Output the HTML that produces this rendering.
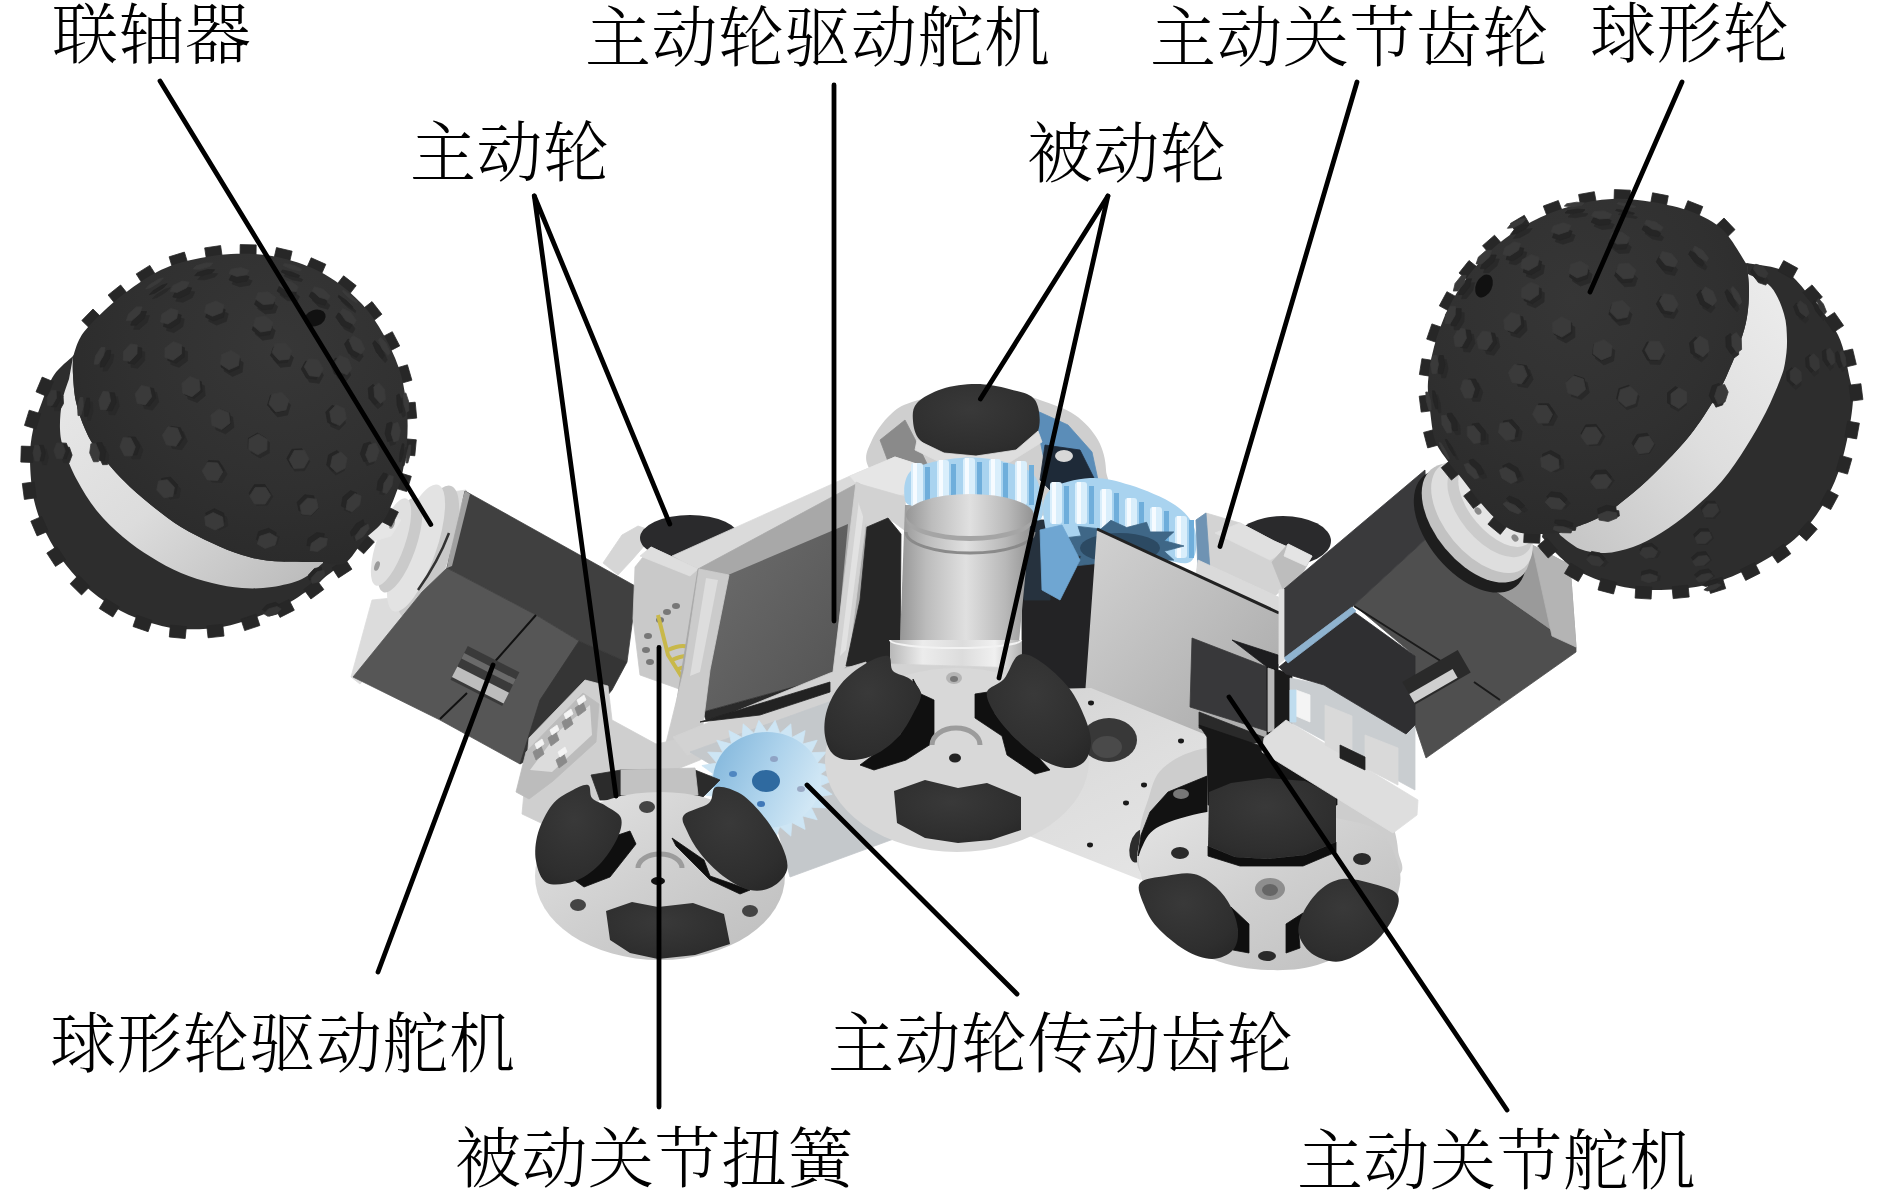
<!DOCTYPE html>
<html lang="zh"><head><meta charset="utf-8"><title>robot</title>
<style>html,body{margin:0;padding:0;background:#fff;}svg{display:block}text{font-family:"Liberation Serif","Noto Serif CJK SC",serif;}</style>
</head><body>
<svg width="1890" height="1190" viewBox="0 0 1890 1190">
<rect width="1890" height="1190" fill="#fff"/>
<defs>
<linearGradient id="bandL" x1="0" y1="0" x2="1" y2="1"><stop offset="0" stop-color="#e9e9e9"/><stop offset="0.5" stop-color="#dcdcdc"/><stop offset="1" stop-color="#b9b9b9"/></linearGradient>
<linearGradient id="bandR" x1="1" y1="0" x2="0" y2="1"><stop offset="0" stop-color="#ededed"/><stop offset="0.5" stop-color="#dedede"/><stop offset="1" stop-color="#c4c4c4"/></linearGradient>
<radialGradient id="ballL" cx="0.62" cy="0.3" r="0.75"><stop offset="0" stop-color="#373737"/><stop offset="0.6" stop-color="#303030"/><stop offset="1" stop-color="#2a2a2a"/></radialGradient>
<radialGradient id="ballR" cx="0.45" cy="0.3" r="0.75"><stop offset="0" stop-color="#363636"/><stop offset="0.6" stop-color="#303030"/><stop offset="1" stop-color="#2a2a2a"/></radialGradient>
<linearGradient id="cyl" x1="0" y1="0" x2="1" y2="0"><stop offset="0" stop-color="#969696"/><stop offset="0.2" stop-color="#bcbcbc"/><stop offset="0.5" stop-color="#e0e0e0"/><stop offset="0.8" stop-color="#b8b8b8"/><stop offset="1" stop-color="#929292"/></linearGradient>
<linearGradient id="cyl2" x1="0" y1="0" x2="1" y2="0"><stop offset="0" stop-color="#b8b8b8"/><stop offset="0.25" stop-color="#ececec"/><stop offset="0.55" stop-color="#dcdcdc"/><stop offset="0.8" stop-color="#f0f0f0"/><stop offset="1" stop-color="#b4b4b4"/></linearGradient>
<linearGradient id="splate" x1="0" y1="0" x2="1" y2="1"><stop offset="0" stop-color="#d2d2d2"/><stop offset="0.5" stop-color="#bdbdbd"/><stop offset="1" stop-color="#a8a8a8"/></linearGradient>
<linearGradient id="srv" x1="0" y1="0" x2="1" y2="1"><stop offset="0" stop-color="#6e6e6e"/><stop offset="0.5" stop-color="#606060"/><stop offset="1" stop-color="#525252"/></linearGradient>
<linearGradient id="gearg" x1="0" y1="0.3" x2="1" y2="0.7"><stop offset="0" stop-color="#86b9dd"/><stop offset="0.5" stop-color="#aed3ec"/><stop offset="1" stop-color="#d6eaf6"/></linearGradient>
<linearGradient id="plate" x1="0" y1="0" x2="1" y2="1"><stop offset="0" stop-color="#c9c9c9"/><stop offset="1" stop-color="#dedede"/></linearGradient>
</defs>
<polygon points="351.0,677.0 372.0,600.0 412.0,596.0 447.0,566.0 458.0,521.0 452.0,492.0 466.0,490.0 470.0,500.0 450.0,575.0 360.0,684.0" fill="#dcdcdc"  stroke="#dcdcdc" stroke-width="0.8"/>
<ellipse cx="428.0" cy="552.0" rx="22.0" ry="70.0" fill="#c9c9c9" transform="rotate(19.3 428.0 552.0)" />
<ellipse cx="416.0" cy="548.0" rx="20.0" ry="67.0" fill="#e3e3e3" transform="rotate(19.3 416.0 548.0)" />
<ellipse cx="400.0" cy="545.0" rx="16.0" ry="50.0" fill="#cacaca" transform="rotate(19.3 400.0 545.0)" />
<ellipse cx="391.0" cy="542.0" rx="14.0" ry="46.0" fill="#e0e0e0" transform="rotate(19.3 391.0 542.0)" />
<polygon points="385.0,512.0 401.0,520.0 391.0,536.0 364.0,544.0" fill="#e6e6e6"  stroke="#e6e6e6" stroke-width="0.8"/>
<ellipse cx="392.0" cy="524.0" rx="2.5" ry="5.0" fill="#9a9a9a" transform="rotate(19.0 392.0 524.0)" />
<ellipse cx="377.0" cy="566.0" rx="2.5" ry="5.0" fill="#9a9a9a" transform="rotate(19.0 377.0 566.0)" />
<path d="M449,533 Q438,562 418,590" stroke="#333" stroke-width="2.5" fill="none"/>
<polygon points="447.0,568.0 536.0,615.0 579.0,641.0 545.0,700.0 520.0,764.0 440.0,720.0 353.0,677.0 422.0,592.0" fill="#565656"  stroke="#565656" stroke-width="0.8"/>
<polygon points="465.0,491.0 637.0,587.0 627.0,662.0 579.0,641.0 536.0,615.0 447.0,568.0 458.0,521.0" fill="#404040"  stroke="#404040" stroke-width="0.8"/>
<polygon points="579.0,641.0 627.0,662.0 612.0,690.0 575.0,735.0 520.0,764.0 540.0,700.0" fill="#353535"  stroke="#353535" stroke-width="0.8"/>
<polygon points="465.0,491.0 470.0,494.0 452.0,566.0 447.0,568.0 456.0,521.0" fill="#c8c8c8" opacity='.7'/>
<path d="M536,615 L491,666 M467,693 L440,719" stroke="#111" stroke-width="2" fill="none"/>
<g transform="rotate(27 485 676)"><rect x="456" y="657" width="58" height="38" fill="#3a3a3a"/><rect x="456" y="680" width="58" height="12" fill="#bdbdbd"/><rect x="456" y="665" width="58" height="6" fill="#6a6a6a"/></g>
<polygon points="603.0,563.0 622.0,535.0 638.0,526.0 650.0,530.0 645.0,545.0 632.0,560.0 618.0,575.0" fill="#d6d6d6"  stroke="#d6d6d6" stroke-width="0.8"/>
<ellipse cx="690.0" cy="538.0" rx="50.0" ry="23.0" fill="#2a2a2c" />
<ellipse cx="1283.0" cy="541.0" rx="48.0" ry="25.0" fill="#2a2a2c" />
<path d="M868.0,466.0 C863.3,456.0 868.3,448.5 872.0,440.0 C875.7,431.5 883.3,421.3 890.0,415.0 C896.7,408.7 900.3,405.8 912.0,402.0 C923.7,398.2 943.7,393.7 960.0,392.0 C976.3,390.3 996.7,390.7 1010.0,392.0 C1023.3,393.3 1029.2,396.2 1040.0,400.0 C1050.8,403.8 1065.3,408.3 1075.0,415.0 C1084.7,421.7 1092.8,430.8 1098.0,440.0 C1103.2,449.2 1105.7,460.0 1106.0,470.0 C1106.3,480.0 1117.7,491.7 1100.0,500.0 C1082.3,508.3 1033.3,520.0 1000.0,520.0 C966.7,520.0 922.0,509.0 900.0,500.0 C878.0,491.0 872.7,476.0 868.0,466.0Z" fill="#cfcfcf" />
<polygon points="880.0,440.0 905.0,420.0 918.0,445.0 930.0,470.0 895.0,480.0" fill="#8a8a8a"  stroke="#8a8a8a" stroke-width="0.8"/>
<polygon points="1035.0,410.0 1068.0,425.0 1092.0,452.0 1098.0,480.0 1050.0,490.0 1040.0,440.0" fill="#5b8db8"  stroke="#5b8db8" stroke-width="0.8"/>
<polygon points="1045.0,445.0 1080.0,450.0 1095.0,480.0 1060.0,500.0 1040.0,480.0" fill="#1e2a38"  stroke="#1e2a38" stroke-width="0.8"/>
<ellipse cx="1064.0" cy="456.0" rx="9.0" ry="6.0" fill="#d8d8d8" />
<path d="M913.0,421.0 C912.5,414.8 912.2,408.3 917.0,403.0 C921.8,397.7 932.2,392.2 942.0,389.0 C951.8,385.8 964.8,384.0 976.0,384.0 C987.2,384.0 999.2,386.3 1009.0,389.0 C1018.8,391.7 1030.2,393.0 1035.0,400.0 C1039.8,407.0 1041.2,422.7 1038.0,431.0 C1034.8,439.3 1026.3,445.8 1016.0,450.0 C1005.7,454.2 988.0,455.5 976.0,456.0 C964.0,456.5 953.3,455.7 944.0,453.0 C934.7,450.3 925.2,445.3 920.0,440.0 C914.8,434.7 913.5,427.2 913.0,421.0Z" fill="url(#roll)" />
<polygon points="917.0,440.0 944.0,453.0 976.0,456.0 1016.0,450.0 1038.0,431.0 1042.0,442.0 1010.0,462.0 976.0,466.0 944.0,464.0 915.0,450.0" fill="#dedede"  stroke="#dedede" stroke-width="0.8"/>
<polygon points="672.0,556.0 850.0,476.0 895.0,457.0 935.0,470.0 905.0,500.0 858.0,483.0 698.0,570.0" fill="#dadada"  stroke="#dadada" stroke-width="0.8"/>
<polygon points="850.0,476.0 895.0,457.0 935.0,470.0 915.0,492.0 870.0,500.0" fill="#e6e6e6"  stroke="#e6e6e6" stroke-width="0.8"/>
<polygon points="635.0,567.0 651.0,547.0 698.0,569.0 694.0,614.0 682.0,690.0 640.0,675.0 633.0,618.0" fill="#c9c9c9"  stroke="#c9c9c9" stroke-width="0.8"/>
<polygon points="651.0,547.0 698.0,569.0 690.0,576.0 640.0,556.0" fill="#dedede"  stroke="#dedede" stroke-width="0.8"/>
<ellipse cx="660.0" cy="620.0" rx="4.0" ry="3.0" fill="#777" />
<ellipse cx="667.0" cy="612.0" rx="4.0" ry="3.0" fill="#777" />
<ellipse cx="648.0" cy="636.0" rx="4.0" ry="3.0" fill="#777" />
<ellipse cx="646.0" cy="650.0" rx="4.0" ry="3.0" fill="#777" />
<ellipse cx="650.0" cy="662.0" rx="4.0" ry="3.0" fill="#777" />
<ellipse cx="676.0" cy="606.0" rx="4.0" ry="3.0" fill="#777" />
<path d="M658,615 L668,655 L690,690 M668,650 C690,640 700,650 690,672 M672,660 C694,650 704,660 694,684 M676,670 C698,660 708,672 698,694" stroke="#c8b84a" stroke-width="4" fill="none"/>
<polygon points="698.0,569.0 858.0,483.0 868.0,490.0 866.0,665.0 832.0,682.0 676.0,706.0" fill="#a8a8a8"  stroke="#a8a8a8" stroke-width="0.8"/>
<polygon points="728.0,575.0 848.0,524.0 834.0,676.0 703.0,712.0 712.0,640.0" fill="url(#srv)" />
<polygon points="703.0,712.0 834.0,676.0 834.0,684.0 706.0,720.0" fill="#2a2a2a"  stroke="#2a2a2a" stroke-width="0.8"/>
<polygon points="699.0,569.0 729.0,575.0 710.0,670.0 702.0,733.0 666.0,743.0 684.0,670.0" fill="#cbcbcb"  stroke="#cbcbcb" stroke-width="0.8"/>
<polygon points="706.0,578.0 718.0,580.0 700.0,672.0 690.0,676.0" fill="#e4e4e4" opacity='.7'/>
<polygon points="856.0,482.0 870.0,489.0 848.0,664.0 832.0,680.0" fill="#d2d2d2"  stroke="#d2d2d2" stroke-width="0.8"/>
<polygon points="860.0,492.0 866.0,495.0 846.0,650.0 840.0,656.0" fill="#ececec" opacity='.6'/>
<polygon points="856.0,483.0 905.0,497.0 907.0,532.0 888.0,518.0 867.0,527.0 858.0,500.0" fill="#d2d2d2"  stroke="#d2d2d2" stroke-width="0.8"/>
<polygon points="867.0,527.0 888.0,518.0 901.0,534.0 900.0,666.0 846.0,666.0 860.0,600.0" fill="#262626"  stroke="#262626" stroke-width="0.8"/>
<polygon points="1022.0,545.0 1060.0,560.0 1097.0,531.0 1092.0,692.0 1060.0,694.0 1022.0,682.0" fill="#232325"  stroke="#232325" stroke-width="0.8"/>
<polygon points="1020.0,520.0 1050.0,520.0 1050.0,600.0 1024.0,600.0" fill="#26323e"  stroke="#26323e" stroke-width="0.8"/>
<polygon points="905.0,505.0 1032.0,505.0 1019.0,642.0 900.0,642.0" fill="url(#cyl)" />
<path d="M890,640 L1021,640 L1021,664 A65.5,10 0 0 1 890,664 Z" fill="url(#cyl2)"/>
<path d="M890,640 A65.5,8 0 0 0 1021,640" stroke="#f2f2f2" stroke-width="2" fill="none"/>
<path d="M905.0,500.0 C903.7,494.2 902.8,477.0 912.0,470.0 C921.2,463.0 944.5,459.3 960.0,458.0 C975.5,456.7 992.3,458.7 1005.0,462.0 C1017.7,465.3 1030.2,468.3 1036.0,478.0 C1041.8,487.7 1046.0,516.3 1040.0,520.0 C1034.0,523.7 1013.3,504.2 1000.0,500.0 C986.7,495.8 973.3,494.2 960.0,495.0 C946.7,495.8 929.2,504.2 920.0,505.0 C910.8,505.8 906.3,505.8 905.0,500.0Z" fill="#a9d3ef" />
<rect x="911" y="463" width="12" height="44" rx="3" fill="#d9eefb"/>
<rect x="913" y="463" width="4" height="44" fill="#f6fbff"/>
<rect x="925" y="467" width="5" height="40" fill="#6faedb"/>
<rect x="937" y="460" width="12" height="44" rx="3" fill="#d9eefb"/>
<rect x="939" y="460" width="4" height="44" fill="#f6fbff"/>
<rect x="951" y="464" width="5" height="40" fill="#6faedb"/>
<rect x="963" y="458" width="12" height="44" rx="3" fill="#d9eefb"/>
<rect x="965" y="458" width="4" height="44" fill="#f6fbff"/>
<rect x="977" y="462" width="5" height="40" fill="#6faedb"/>
<rect x="989" y="459" width="12" height="44" rx="3" fill="#d9eefb"/>
<rect x="991" y="459" width="4" height="44" fill="#f6fbff"/>
<rect x="1003" y="463" width="5" height="40" fill="#6faedb"/>
<rect x="1015" y="461" width="12" height="44" rx="3" fill="#d9eefb"/>
<rect x="1017" y="461" width="4" height="44" fill="#f6fbff"/>
<rect x="1029" y="465" width="5" height="40" fill="#6faedb"/>
<ellipse cx="970.0" cy="519.0" rx="64.0" ry="22.0" fill="#a5a5a5" />
<ellipse cx="970.0" cy="515.0" rx="64.0" ry="21.0" fill="url(#cyl)" />
<path d="M906,532 A64,21 0 0 0 1034,532" stroke="#8a8a8a" stroke-width="3" fill="none"/>
<path d="M1044.0,520.0 C1042.3,508.3 1042.3,497.0 1050.0,490.0 C1057.7,483.0 1076.7,478.8 1090.0,478.0 C1103.3,477.2 1115.8,480.5 1130.0,485.0 C1144.2,489.5 1164.2,497.5 1175.0,505.0 C1185.8,512.5 1192.5,520.5 1195.0,530.0 C1197.5,539.5 1197.5,557.8 1190.0,562.0 C1182.5,566.2 1165.0,558.7 1150.0,555.0 C1135.0,551.3 1115.0,539.2 1100.0,540.0 C1085.0,540.8 1069.3,563.3 1060.0,560.0 C1050.7,556.7 1045.7,531.7 1044.0,520.0Z" fill="#a9d3ef" />
<rect x="1050" y="482" width="12" height="42" rx="3" fill="#d9eefb"/>
<rect x="1052" y="482" width="4" height="42" fill="#f6fbff"/>
<rect x="1064" y="486" width="5" height="38" fill="#6faedb"/>
<rect x="1075" y="482" width="12" height="42" rx="3" fill="#d9eefb"/>
<rect x="1077" y="482" width="4" height="42" fill="#f6fbff"/>
<rect x="1089" y="486" width="5" height="38" fill="#6faedb"/>
<rect x="1100" y="489" width="12" height="42" rx="3" fill="#d9eefb"/>
<rect x="1102" y="489" width="4" height="42" fill="#f6fbff"/>
<rect x="1114" y="493" width="5" height="38" fill="#6faedb"/>
<rect x="1125" y="498" width="12" height="42" rx="3" fill="#d9eefb"/>
<rect x="1127" y="498" width="4" height="42" fill="#f6fbff"/>
<rect x="1139" y="502" width="5" height="38" fill="#6faedb"/>
<rect x="1150" y="507" width="12" height="42" rx="3" fill="#d9eefb"/>
<rect x="1152" y="507" width="4" height="42" fill="#f6fbff"/>
<rect x="1164" y="511" width="5" height="38" fill="#6faedb"/>
<rect x="1175" y="516" width="12" height="42" rx="3" fill="#d9eefb"/>
<rect x="1177" y="516" width="4" height="42" fill="#f6fbff"/>
<rect x="1189" y="520" width="5" height="38" fill="#6faedb"/>
<polygon points="1184.0,546.0 1164.2,551.3 1173.8,560.1 1150.2,560.1 1146.6,569.7 1126.6,564.5 1110.9,571.7 1100.9,563.0 1078.1,565.6 1081.2,556.1 1058.6,553.3 1073.9,546.0 1058.6,538.7 1081.2,535.9 1078.1,526.4 1100.9,529.0 1110.9,520.3 1126.6,527.5 1146.6,522.3 1150.2,531.9 1173.8,531.9 1164.2,540.7" fill="#3f6787"  stroke="#3f6787" stroke-width="0.8"/>
<ellipse cx="1120.0" cy="548.0" rx="40.0" ry="15.0" fill="#2c4a63" />
<polygon points="1040.0,530.0 1062.0,525.0 1080.0,560.0 1060.0,600.0 1042.0,590.0" fill="#6fa6d2"  stroke="#6fa6d2" stroke-width="0.8"/>
<polygon points="1196.0,520.0 1206.0,513.0 1240.0,523.0 1274.0,541.0 1307.0,556.0 1290.0,583.0 1270.0,600.0 1200.0,574.0" fill="#d3d3d3"  stroke="#d3d3d3" stroke-width="0.8"/>
<polygon points="1240.0,523.0 1274.0,541.0 1290.0,548.0 1270.0,560.0 1215.0,533.0" fill="#e0e0e0"  stroke="#e0e0e0" stroke-width="0.8"/>
<polygon points="1272.0,562.0 1288.0,544.0 1312.0,556.0 1300.0,578.0 1284.0,592.0" fill="#bdbdbd"  stroke="#bdbdbd" stroke-width="0.8"/>
<polygon points="1288.0,544.0 1312.0,556.0 1306.0,566.0 1284.0,556.0" fill="#e4e4e4"  stroke="#e4e4e4" stroke-width="0.8"/>
<polygon points="1196.0,520.0 1206.0,513.0 1210.0,570.0 1198.0,572.0" fill="#6f93b3"  stroke="#6f93b3" stroke-width="0.8"/>
<polygon points="1198.0,560.0 1285.0,600.0 1281.0,616.0 1196.0,575.0" fill="#dadada"  stroke="#dadada" stroke-width="0.8"/>
<polygon points="1097.0,529.0 1279.0,613.0 1279.0,668.0 1267.0,668.0 1267.0,745.0 1210.0,745.0 1085.0,695.0" fill="url(#splate)" />
<path d="M1097,529 L1279,613" stroke="#222" stroke-width="3"/>
<polygon points="1192.0,638.0 1267.0,667.0 1267.0,731.0 1190.0,707.0" fill="#38383a"  stroke="#38383a" stroke-width="0.8"/>
<polygon points="1232.0,640.0 1278.0,655.0 1278.0,690.0 1267.0,690.0 1267.0,667.0" fill="#1d1d1f"  stroke="#1d1d1f" stroke-width="0.8"/>
<polygon points="1267.0,667.0 1292.0,674.0 1292.0,726.0 1267.0,735.0" fill="#1a1a1a"  stroke="#1a1a1a" stroke-width="0.8"/>
<polygon points="1199.0,712.0 1266.0,738.0 1266.0,750.0 1199.0,728.0" fill="#2a2a2a"  stroke="#2a2a2a" stroke-width="0.8"/>
<polygon points="1268.0,668.0 1274.0,670.0 1274.0,730.0 1268.0,732.0" fill="#b8b8b8"  stroke="#b8b8b8" stroke-width="0.8"/>
<defs>
<linearGradient id="base" x1="0" y1="0" x2="1" y2="1"><stop offset="0" stop-color="#cdcdcd"/><stop offset="0.6" stop-color="#dedede"/><stop offset="1" stop-color="#e6e6e6"/></linearGradient>
<linearGradient id="disc" x1="0" y1="0" x2="1" y2="1"><stop offset="0" stop-color="#e4e4e4"/><stop offset="0.5" stop-color="#cfcfcf"/><stop offset="1" stop-color="#bdbdbd"/></linearGradient>
<radialGradient id="roll" cx="0.45" cy="0.35" r="0.8"><stop offset="0" stop-color="#393939"/><stop offset="0.7" stop-color="#2e2e2e"/><stop offset="1" stop-color="#262626"/></radialGradient>
</defs>
<polygon points="522.0,814.0 529.0,738.0 585.0,680.0 608.0,686.0 612.0,720.0 656.0,744.0 700.0,735.0 760.0,720.0 700.0,760.0 600.0,800.0 560.0,832.0" fill="#cfcfcf"  stroke="#cfcfcf" stroke-width="0.8"/>
<polygon points="516.0,792.0 526.0,752.0 583.0,693.0 599.0,704.0 596.0,742.0 553.0,781.0 529.0,799.0" fill="#bcbcbc"  stroke="#bcbcbc" stroke-width="0.8"/>
<polygon points="530.0,770.0 560.0,730.0 590.0,705.0 592.0,735.0 552.0,772.0" fill="#e4e4e4" opacity='.8'/>
<polygon points="533.0,752.0 541.0,746.0 544.0,754.0 536.0,760.0" fill="#8a8a8a"  stroke="#8a8a8a" stroke-width="0.8"/>
<polygon points="535.0,744.0 542.0,739.0 544.0,744.0 537.0,749.0" fill="#f4f4f4"  stroke="#f4f4f4" stroke-width="0.8"/>
<polygon points="548.0,738.0 556.0,732.0 559.0,740.0 551.0,746.0" fill="#8a8a8a"  stroke="#8a8a8a" stroke-width="0.8"/>
<polygon points="550.0,730.0 557.0,725.0 559.0,730.0 552.0,735.0" fill="#f4f4f4"  stroke="#f4f4f4" stroke-width="0.8"/>
<polygon points="562.0,722.0 570.0,716.0 573.0,724.0 565.0,730.0" fill="#8a8a8a"  stroke="#8a8a8a" stroke-width="0.8"/>
<polygon points="564.0,714.0 571.0,709.0 573.0,714.0 566.0,719.0" fill="#f4f4f4"  stroke="#f4f4f4" stroke-width="0.8"/>
<polygon points="575.0,708.0 583.0,702.0 586.0,710.0 578.0,716.0" fill="#8a8a8a"  stroke="#8a8a8a" stroke-width="0.8"/>
<polygon points="577.0,700.0 584.0,695.0 586.0,700.0 579.0,705.0" fill="#f4f4f4"  stroke="#f4f4f4" stroke-width="0.8"/>
<polygon points="556.0,760.0 564.0,754.0 567.0,762.0 559.0,768.0" fill="#8a8a8a"  stroke="#8a8a8a" stroke-width="0.8"/>
<polygon points="558.0,752.0 565.0,747.0 567.0,752.0 560.0,757.0" fill="#f4f4f4"  stroke="#f4f4f4" stroke-width="0.8"/>
<polygon points="673.0,737.0 830.0,673.0 866.0,662.0 868.0,690.0 687.0,755.0" fill="#d2d2d2"  stroke="#d2d2d2" stroke-width="0.8"/>
<polygon points="700.0,722.0 830.0,682.0 830.0,692.0 760.0,715.0" fill="#222"  stroke="#222" stroke-width="0.8"/>
<polygon points="690.0,752.0 868.0,688.0 905.0,760.0 910.0,833.0 790.0,877.0 770.0,800.0" fill="#c4c8cb"  stroke="#c4c8cb" stroke-width="0.8"/>
<polygon points="835.0,700.0 1000.0,690.0 1091.0,688.0 1209.0,736.0 1212.0,782.0 1141.0,880.0 1019.0,832.0 905.0,833.0 865.0,818.0 838.0,780.0" fill="url(#base)" />
<ellipse cx="1109.0" cy="740.0" rx="28.0" ry="22.0" fill="#383838" />
<ellipse cx="1107.0" cy="747.0" rx="15.0" ry="11.0" fill="#4a4a4a" />
<ellipse cx="864.0" cy="781.0" rx="7.0" ry="5.6" fill="#1a1a1a" />
<ellipse cx="1047.0" cy="792.0" rx="8.0" ry="6.4" fill="#1a1a1a" />
<ellipse cx="1181.0" cy="741.0" rx="3.0" ry="2.4" fill="#1a1a1a" />
<ellipse cx="1144.0" cy="785.0" rx="3.0" ry="2.4" fill="#1a1a1a" />
<ellipse cx="1126.0" cy="803.0" rx="3.0" ry="2.4" fill="#1a1a1a" />
<ellipse cx="1090.0" cy="845.0" rx="3.0" ry="2.4" fill="#1a1a1a" />
<ellipse cx="1091.0" cy="703.0" rx="3.0" ry="2.4" fill="#1a1a1a" />
<polygon points="834.0,780.0 820.2,785.8 832.1,794.4 817.1,797.0 826.3,807.9 811.1,807.3 817.2,819.8 802.5,815.9 805.1,829.4 791.9,822.5 790.8,836.1 779.8,826.6 775.1,839.6 767.0,828.0 758.9,839.6 754.2,826.6 743.2,836.1 742.1,822.5 728.9,829.4 731.5,815.9 716.8,819.8 722.9,807.3 707.7,807.9 716.9,797.0 701.9,794.4 713.8,785.8 700.0,780.0 713.8,774.2 701.9,765.6 716.9,763.0 707.7,752.1 722.9,752.7 716.8,740.2 731.5,744.1 728.9,730.6 742.1,737.5 743.2,723.9 754.2,733.4 758.9,720.4 767.0,732.0 775.1,720.4 779.8,733.4 790.8,723.9 791.9,737.5 805.1,730.6 802.5,744.1 817.2,740.2 811.1,752.7 826.3,752.1 817.1,763.0 832.1,765.6 820.2,774.2" fill="#cde5f4"  stroke="#cde5f4" stroke-width="0.8"/>
<ellipse cx="767" cy="780" rx="54" ry="48" fill="url(#gearg)"/>
<ellipse cx="766.0" cy="781.0" rx="14.0" ry="11.0" fill="#2f6aa0" />
<ellipse cx="733.0" cy="774.0" rx="4.0" ry="3.0" fill="#4f86c0" />
<ellipse cx="774.0" cy="759.0" rx="4.0" ry="3.0" fill="#8fa3c4" />
<ellipse cx="761.0" cy="804.0" rx="4.0" ry="3.0" fill="#3f78b8" />
<ellipse cx="801.0" cy="789.0" rx="4.0" ry="3.0" fill="#9aa9c4" />
<polygon points="890.0,664.0 1021.0,668.0 1019.0,680.0 992.0,692.0 975.0,706.0 985.0,760.0 925.0,760.0 934.0,706.0 915.0,690.0 890.0,680.0" fill="#d3d3d3"  stroke="#d3d3d3" stroke-width="0.8"/>
<ellipse cx="957.0" cy="760.0" rx="132.0" ry="92.0" fill="#d8d8d8" />
<polygon points="913.0,679.0 921.0,694.0 934.0,700.0 934.0,742.0 906.0,760.0 874.0,770.0 860.0,765.0 900.0,735.0 913.0,712.0" fill="#101010"  stroke="#101010" stroke-width="0.8"/>
<polygon points="975.0,694.0 988.0,692.0 995.0,714.0 1013.0,736.0 1039.0,758.0 1050.0,770.0 1035.0,774.0 1007.0,755.0 1002.0,736.0 975.0,718.0" fill="#101010"  stroke="#101010" stroke-width="0.8"/>
<path d="M825.0,736.0 C823.8,728.5 824.3,718.7 827.0,710.0 C829.7,701.3 834.7,691.7 841.0,684.0 C847.3,676.3 857.2,668.7 865.0,664.0 C872.8,659.3 883.3,654.8 888.0,656.0 C892.7,657.2 889.3,667.2 893.0,671.0 C896.7,674.8 905.3,675.2 910.0,679.0 C914.7,682.8 920.5,688.2 921.0,694.0 C921.5,699.8 916.7,707.0 913.0,714.0 C909.3,721.0 904.8,729.5 899.0,736.0 C893.2,742.5 885.5,749.0 878.0,753.0 C870.5,757.0 861.3,759.7 854.0,760.0 C846.7,760.3 838.8,759.0 834.0,755.0 C829.2,751.0 826.2,743.5 825.0,736.0Z" fill="url(#roll)" />
<path d="M987.0,692.0 C988.5,686.2 998.7,685.2 1004.0,679.0 C1009.3,672.8 1012.8,657.8 1019.0,655.0 C1025.2,652.2 1032.7,656.5 1041.0,662.0 C1049.3,667.5 1061.7,678.7 1069.0,688.0 C1076.3,697.3 1081.3,708.8 1085.0,718.0 C1088.7,727.2 1091.2,735.7 1091.0,743.0 C1090.8,750.3 1088.3,757.8 1084.0,762.0 C1079.7,766.2 1072.5,768.7 1065.0,768.0 C1057.5,767.3 1047.7,763.3 1039.0,758.0 C1030.3,752.7 1020.3,743.3 1013.0,736.0 C1005.7,728.7 999.3,721.3 995.0,714.0 C990.7,706.7 985.5,697.8 987.0,692.0Z" fill="url(#roll)" />
<polygon points="894.0,791.0 925.0,780.0 958.0,788.0 987.0,783.0 1021.0,797.0 1021.0,830.0 991.0,840.0 958.0,843.0 925.0,838.0 897.0,823.0" fill="url(#roll)" />
<path d="M932,745 A24,17 0 0 1 980,745" stroke="#9c9c9c" stroke-width="5" fill="none"/>
<ellipse cx="955.0" cy="758.0" rx="6.0" ry="4.5" fill="#222" />
<ellipse cx="954.0" cy="678.0" rx="8.0" ry="6.0" fill="#b5b5b5" />
<ellipse cx="954.0" cy="679.0" rx="4.0" ry="3.0" fill="#777" />
<polygon points="591.0,775.0 621.0,770.0 695.0,770.0 720.0,780.0 700.0,800.0 600.0,800.0" fill="#2b2b2b"  stroke="#2b2b2b" stroke-width="0.8"/>
<polygon points="621.0,770.0 695.0,768.0 698.0,795.0 621.0,795.0" fill="#c2c2c2"  stroke="#c2c2c2" stroke-width="0.8"/>
<ellipse cx="660.0" cy="876.0" rx="125.0" ry="84.0" fill="url(#disc)" />
<polygon points="606.0,839.0 630.0,831.0 636.0,844.0 610.0,877.0 584.0,887.0 573.0,879.0" fill="#0f0f0f"  stroke="#0f0f0f" stroke-width="0.8"/>
<polygon points="672.0,838.0 704.0,860.0 710.0,876.0 750.0,890.0 740.0,894.0 710.0,880.0 676.0,846.0" fill="#0f0f0f"  stroke="#0f0f0f" stroke-width="0.8"/>
<path d="M536.0,861.0 C534.5,852.7 535.3,842.3 538.0,833.0 C540.7,823.7 546.5,812.0 552.0,805.0 C557.5,798.0 565.0,794.3 571.0,791.0 C577.0,787.7 584.5,783.8 588.0,785.0 C591.5,786.2 589.0,794.5 592.0,798.0 C595.0,801.5 601.2,802.7 606.0,806.0 C610.8,809.3 619.2,812.5 621.0,818.0 C622.8,823.5 620.7,831.2 617.0,839.0 C613.3,846.8 606.0,858.0 599.0,865.0 C592.0,872.0 583.7,878.0 575.0,881.0 C566.3,884.0 553.5,886.3 547.0,883.0 C540.5,879.7 537.5,869.3 536.0,861.0Z" fill="url(#roll)" />
<path d="M684.0,815.0 C687.7,810.3 703.7,807.7 709.0,803.0 C714.3,798.3 710.7,788.5 716.0,787.0 C721.3,785.5 732.8,788.8 741.0,794.0 C749.2,799.2 758.2,809.3 765.0,818.0 C771.8,826.7 778.3,837.3 782.0,846.0 C785.7,854.7 788.7,863.2 787.0,870.0 C785.3,876.8 778.2,883.7 772.0,887.0 C765.8,890.3 758.2,891.8 750.0,890.0 C741.8,888.2 731.3,882.2 723.0,876.0 C714.7,869.8 706.0,860.5 700.0,853.0 C694.0,845.5 689.7,837.3 687.0,831.0 C684.3,824.7 680.3,819.7 684.0,815.0Z" fill="url(#roll)" />
<polygon points="606.0,911.0 632.0,902.0 658.0,907.0 693.0,903.0 724.0,914.0 730.0,944.0 695.0,955.0 658.0,959.0 630.0,953.0 610.0,940.0" fill="url(#roll)" />
<path d="M638,868 A22,14 0 0 1 682,868" stroke="#9c9c9c" stroke-width="5" fill="none"/>
<ellipse cx="658.0" cy="881.0" rx="7.0" ry="4.0" fill="#111" />
<ellipse cx="647.0" cy="807.0" rx="8.0" ry="6.0" fill="#444" />
<ellipse cx="578.0" cy="905.0" rx="8.0" ry="6.0" fill="#444" />
<ellipse cx="750.0" cy="911.0" rx="8.0" ry="6.0" fill="#444" />
<ellipse cx="1139.0" cy="846.0" rx="9.0" ry="17.0" fill="#2c2c2c" transform="rotate(15.0 1139.0 846.0)" />
<path d="M1140.0,835.0 C1139.7,821.7 1144.2,811.2 1148.0,800.0 C1151.8,788.8 1153.2,776.7 1163.0,768.0 C1172.8,759.3 1185.8,751.8 1207.0,748.0 C1228.2,744.2 1267.0,741.3 1290.0,745.0 C1313.0,748.7 1329.2,759.2 1345.0,770.0 C1360.8,780.8 1376.2,796.7 1385.0,810.0 C1393.8,823.3 1397.2,838.3 1398.0,850.0 C1398.8,861.7 1411.3,871.7 1390.0,880.0 C1368.7,888.3 1310.0,900.0 1270.0,900.0 C1230.0,900.0 1171.7,890.8 1150.0,880.0 C1128.3,869.2 1140.3,848.3 1140.0,835.0Z" fill="#cdcdcd" />
<polygon points="1138.0,856.0 1141.0,835.0 1150.0,812.0 1168.0,792.0 1207.0,776.0 1207.0,814.0 1165.0,828.0 1146.0,845.0" fill="#121212"  stroke="#121212" stroke-width="0.8"/>
<ellipse cx="1181.0" cy="794.0" rx="8.0" ry="5.0" fill="#777" />
<polygon points="1199.0,725.0 1264.0,747.0 1286.0,765.0 1323.0,783.0 1337.0,796.0 1337.0,805.0 1208.0,805.0 1207.0,737.0" fill="#171717"  stroke="#171717" stroke-width="0.8"/>
<path d="M1140.0,870.0 C1137.2,856.7 1139.7,852.3 1143.0,845.0 C1146.3,837.7 1149.3,831.5 1160.0,826.0 C1170.7,820.5 1188.7,815.3 1207.0,812.0 C1225.3,808.7 1248.5,805.0 1270.0,806.0 C1291.5,807.0 1317.8,813.8 1336.0,818.0 C1354.2,822.2 1368.8,823.8 1379.0,831.0 C1389.2,838.2 1393.7,851.3 1397.0,861.0 C1400.3,870.7 1401.8,877.5 1399.0,889.0 C1396.2,900.5 1392.7,917.7 1380.0,930.0 C1367.3,942.3 1341.7,956.3 1323.0,963.0 C1304.3,969.7 1286.5,970.7 1268.0,970.0 C1249.5,969.3 1230.0,966.5 1212.0,959.0 C1194.0,951.5 1172.0,939.8 1160.0,925.0 C1148.0,910.2 1142.8,883.3 1140.0,870.0Z" fill="url(#disc)" />
<polygon points="1231.0,907.0 1238.0,931.0 1233.0,950.0 1249.0,953.0 1249.0,924.0" fill="#0f0f0f"  stroke="#0f0f0f" stroke-width="0.8"/>
<polygon points="1286.0,924.0 1286.0,953.0 1300.0,948.0 1299.0,935.0 1303.0,913.0" fill="#0f0f0f"  stroke="#0f0f0f" stroke-width="0.8"/>
<polygon points="1208.0,846.0 1235.0,857.0 1268.0,859.0 1305.0,855.0 1336.0,842.0 1336.0,852.0 1303.0,866.0 1240.0,866.0 1208.0,856.0" fill="#0f0f0f"  stroke="#0f0f0f" stroke-width="0.8"/>
<polygon points="1209.0,792.0 1231.0,783.0 1268.0,778.0 1305.0,781.0 1336.0,796.0 1336.0,842.0 1305.0,855.0 1268.0,859.0 1235.0,857.0 1208.0,846.0" fill="url(#roll)" />
<path d="M1140.0,883.0 C1143.7,878.2 1157.0,877.5 1166.0,876.0 C1175.0,874.5 1185.7,872.2 1194.0,874.0 C1202.3,875.8 1209.8,881.5 1216.0,887.0 C1222.2,892.5 1227.3,899.7 1231.0,907.0 C1234.7,914.3 1237.7,923.8 1238.0,931.0 C1238.3,938.2 1237.3,945.3 1233.0,950.0 C1228.7,954.7 1220.0,959.0 1212.0,959.0 C1204.0,959.0 1194.2,955.3 1185.0,950.0 C1175.8,944.7 1163.8,934.5 1157.0,927.0 C1150.2,919.5 1146.8,912.3 1144.0,905.0 C1141.2,897.7 1136.3,887.8 1140.0,883.0Z" fill="url(#roll)" />
<path d="M1320.0,890.0 C1326.5,884.3 1333.7,880.2 1342.0,879.0 C1350.3,877.8 1360.8,880.5 1370.0,883.0 C1379.2,885.5 1393.0,888.5 1397.0,894.0 C1401.0,899.5 1397.7,908.0 1394.0,916.0 C1390.3,924.0 1383.7,934.5 1375.0,942.0 C1366.3,949.5 1352.2,958.8 1342.0,961.0 C1331.8,963.2 1321.2,959.3 1314.0,955.0 C1306.8,950.7 1300.8,942.0 1299.0,935.0 C1297.2,928.0 1299.5,920.5 1303.0,913.0 C1306.5,905.5 1313.5,895.7 1320.0,890.0Z" fill="url(#roll)" />
<ellipse cx="1270.0" cy="889.0" rx="15.0" ry="11.0" fill="#8e8e8e" />
<ellipse cx="1270.0" cy="890.0" rx="8.0" ry="6.0" fill="#666" />
<ellipse cx="1180.0" cy="853.0" rx="9.0" ry="6.0" fill="#2a2a2a" />
<ellipse cx="1362.0" cy="859.0" rx="9.0" ry="6.0" fill="#2a2a2a" />
<ellipse cx="1267.0" cy="956.0" rx="9.0" ry="5.0" fill="#2a2a2a" />
<polygon points="1264.0,738.0 1286.0,720.0 1418.0,800.0 1417.0,815.0 1393.0,833.0 1262.0,752.0" fill="#dedede"  stroke="#dedede" stroke-width="0.8"/>
<polygon points="1290.0,678.0 1324.0,685.0 1415.0,726.0 1415.0,790.0 1290.0,722.0" fill="#c9cdd0"  stroke="#c9cdd0" stroke-width="0.8"/>
<polygon points="1296.0,690.0 1310.0,695.0 1310.0,722.0 1296.0,716.0" fill="#f4f4f4"  stroke="#f4f4f4" stroke-width="0.8"/>
<polygon points="1325.0,705.0 1352.0,716.0 1352.0,760.0 1325.0,745.0" fill="#d9d9d9"  stroke="#d9d9d9" stroke-width="0.8"/>
<polygon points="1365.0,735.0 1398.0,748.0 1398.0,785.0 1365.0,768.0" fill="#d9d9d9"  stroke="#d9d9d9" stroke-width="0.8"/>
<polygon points="1340.0,745.0 1365.0,757.0 1365.0,770.0 1340.0,758.0" fill="#222"  stroke="#222" stroke-width="0.8"/>
<polygon points="1290.0,690.0 1296.0,690.0 1296.0,722.0 1290.0,722.0" fill="#bfdcee"  stroke="#bfdcee" stroke-width="0.8"/>
<polygon points="1354.0,605.0 1427.0,538.0 1496.0,591.0 1576.0,647.0 1576.0,652.0 1426.0,758.0 1415.0,725.0 1415.0,656.0" fill="#4f4f4f"  stroke="#4f4f4f" stroke-width="0.8"/>
<polygon points="1279.0,667.0 1350.0,609.0 1415.0,656.0 1415.0,725.0 1406.0,734.0 1324.0,685.0 1286.0,674.0" fill="#2f2f31"  stroke="#2f2f31" stroke-width="0.8"/>
<polygon points="1284.0,589.0 1425.0,470.0 1427.0,538.0 1352.0,607.0 1284.0,658.0" fill="#3a3a3c"  stroke="#3a3a3c" stroke-width="0.8"/>
<polygon points="1284.0,658.0 1352.0,607.0 1356.0,611.0 1288.0,663.0" fill="#8fb3cf"  stroke="#8fb3cf" stroke-width="0.8"/>
<polygon points="1279.0,590.0 1284.0,589.0 1284.0,660.0 1279.0,664.0" fill="#e0e0e0"  stroke="#e0e0e0" stroke-width="0.8"/>
<polygon points="1496.0,591.0 1532.0,545.0 1570.0,565.0 1576.0,647.0" fill="#9a9a9a"  stroke="#9a9a9a" stroke-width="0.8"/>
<polygon points="1532.0,545.0 1570.0,565.0 1576.0,647.0 1552.0,636.0" fill="#b4b4b4"  stroke="#b4b4b4" stroke-width="0.8"/>
<path d="M1354,606 L1458,672 M1474,682 L1500,700" stroke="#1a1a1a" stroke-width="2" fill="none"/>
<g transform="rotate(-30 1437 678)"><rect x="1405" y="664" width="64" height="26" fill="#2a2a2a"/><rect x="1405" y="678" width="50" height="10" fill="#cfcfcf"/></g>
<ellipse cx="1470.0" cy="531.0" rx="72.0" ry="42.0" fill="#1e1e1e" transform="rotate(50.3 1470.0 531.0)" />
<ellipse cx="1476.0" cy="523.0" rx="70.0" ry="40.0" fill="#c2c2c2" transform="rotate(50.3 1476.0 523.0)" />
<ellipse cx="1482.0" cy="517.0" rx="66.0" ry="37.0" fill="#dedede" transform="rotate(50.3 1482.0 517.0)" />
<ellipse cx="1490.0" cy="510.0" rx="56.0" ry="30.0" fill="#cbcbcb" transform="rotate(50.3 1490.0 510.0)" />
<ellipse cx="1496.0" cy="505.0" rx="50.0" ry="26.0" fill="#e5e5e5" transform="rotate(50.3 1496.0 505.0)" />
<ellipse cx="1503.0" cy="499.0" rx="36.0" ry="18.0" fill="#d4d4d4" transform="rotate(50.3 1503.0 499.0)" />
<ellipse cx="1478.0" cy="511.0" rx="4.0" ry="3.0" fill="#8a8a8a" transform="rotate(50.0 1478.0 511.0)" />
<ellipse cx="1515.0" cy="538.0" rx="4.0" ry="3.0" fill="#8a8a8a" transform="rotate(50.0 1515.0 538.0)" />
<path d="M73.0,356.0 C69.8,359.2 59.2,367.3 54.0,375.0 C48.8,382.7 45.5,392.8 42.0,402.0 C38.5,411.2 35.0,420.3 33.0,430.0 C31.0,439.7 29.8,448.3 30.0,460.0 C30.2,471.7 31.3,487.8 34.0,500.0 C36.7,512.2 40.7,522.2 46.0,533.0 C51.3,543.8 58.5,555.3 66.0,565.0 C73.5,574.7 81.8,583.3 91.0,591.0 C100.2,598.7 111.0,605.7 121.0,611.0 C131.0,616.3 141.0,620.0 151.0,623.0 C161.0,626.0 169.2,628.3 181.0,629.0 C192.8,629.7 208.5,629.3 222.0,627.0 C235.5,624.7 250.3,619.3 262.0,615.0 C273.7,610.7 283.7,605.7 292.0,601.0 C300.3,596.3 305.2,592.0 312.0,587.0 C318.8,582.0 327.5,575.0 333.0,571.0 C338.5,567.0 343.0,564.3 345.0,563.0 L380,480 L300,300 L120,300 Z" fill="#2d2d2d"/>
<polygon points="53.3,381.7 47.0,396.5 36.0,391.8 42.2,377.1" fill="#272727"  stroke="#272727" stroke-width="0.8"/>
<polygon points="40.7,413.7 35.9,429.0 24.5,425.4 29.2,410.2" fill="#272727"  stroke="#272727" stroke-width="0.8"/>
<polygon points="33.3,446.5 32.7,462.5 20.8,462.1 21.3,446.1" fill="#272727"  stroke="#272727" stroke-width="0.8"/>
<polygon points="34.2,481.9 36.3,497.8 24.4,499.4 22.3,483.5" fill="#272727"  stroke="#272727" stroke-width="0.8"/>
<polygon points="41.8,516.4 48.2,531.2 37.1,535.9 30.8,521.2" fill="#272727"  stroke="#272727" stroke-width="0.8"/>
<polygon points="56.8,546.5 65.6,559.8 55.5,566.4 46.8,553.1" fill="#272727"  stroke="#272727" stroke-width="0.8"/>
<polygon points="78.5,575.2 89.9,586.5 81.5,595.0 70.1,583.8" fill="#272727"  stroke="#272727" stroke-width="0.8"/>
<polygon points="105.6,598.4 119.2,606.9 112.8,617.0 99.3,608.5" fill="#272727"  stroke="#272727" stroke-width="0.8"/>
<polygon points="136.9,615.1 152.0,620.4 148.1,631.7 133.0,626.5" fill="#272727"  stroke="#272727" stroke-width="0.8"/>
<polygon points="170.4,625.0 186.4,626.6 185.2,638.5 169.3,637.0" fill="#272727"  stroke="#272727" stroke-width="0.8"/>
<polygon points="206.8,625.9 222.7,624.2 224.0,636.1 208.1,637.8" fill="#272727"  stroke="#272727" stroke-width="0.8"/>
<polygon points="240.9,619.2 256.1,614.1 259.9,625.5 244.7,630.6" fill="#272727"  stroke="#272727" stroke-width="0.8"/>
<polygon points="274.6,606.6 288.9,599.5 294.3,610.2 280.0,617.4" fill="#272727"  stroke="#272727" stroke-width="0.8"/>
<polygon points="303.8,589.4 316.6,579.8 323.8,589.5 310.9,599.0" fill="#272727"  stroke="#272727" stroke-width="0.8"/>
<polygon points="332.0,567.9 345.4,559.1 351.9,569.2 338.5,577.9" fill="#272727"  stroke="#272727" stroke-width="0.8"/>
<path d="M69.0,379.0 C67.8,382.8 63.5,393.7 62.0,402.0 C60.5,410.3 59.7,421.0 60.0,429.0 C60.3,437.0 61.2,441.5 64.0,450.0 C66.8,458.5 71.5,469.8 77.0,480.0 C82.5,490.2 89.3,501.5 97.0,511.0 C104.7,520.5 114.0,529.3 123.0,537.0 C132.0,544.7 141.3,551.0 151.0,557.0 C160.7,563.0 170.8,568.7 181.0,573.0 C191.2,577.3 201.8,580.5 212.0,583.0 C222.2,585.5 232.0,587.3 242.0,588.0 C252.0,588.7 262.0,588.5 272.0,587.0 C282.0,585.5 293.5,583.0 302.0,579.0 C310.5,575.0 319.5,565.7 323.0,563.0 L323.0,562.0 C314.5,561.8 285.5,562.2 272.0,561.0 C258.5,559.8 252.0,558.0 242.0,555.0 C232.0,552.0 222.2,547.7 212.0,543.0 C201.8,538.3 191.2,533.3 181.0,527.0 C170.8,520.7 160.7,512.8 151.0,505.0 C141.3,497.2 132.0,489.2 123.0,480.0 C114.0,470.8 103.3,458.5 97.0,450.0 C90.7,441.5 88.5,437.0 85.0,429.0 C81.5,421.0 78.0,411.0 76.0,402.0 C74.0,393.0 73.5,382.5 73.0,375.0 C72.5,367.5 73.0,360.0 73.0,357.0 Z" fill="url(#bandL)"/>
<polygon points="90.4,328.9 101.5,317.4 93.0,309.0 81.8,320.5" fill="#272727"  stroke="#272727" stroke-width="0.8"/>
<polygon points="115.7,304.4 128.1,294.3 120.6,285.0 108.1,295.0" fill="#272727"  stroke="#272727" stroke-width="0.8"/>
<polygon points="142.6,284.1 156.2,275.5 149.8,265.4 136.2,273.9" fill="#272727"  stroke="#272727" stroke-width="0.8"/>
<polygon points="172.6,268.3 187.9,263.6 184.4,252.1 169.1,256.8" fill="#272727"  stroke="#272727" stroke-width="0.8"/>
<polygon points="206.5,259.8 222.3,257.4 220.6,245.6 204.7,247.9" fill="#272727"  stroke="#272727" stroke-width="0.8"/>
<polygon points="240.0,256.6 256.0,256.9 256.2,244.9 240.2,244.6" fill="#272727"  stroke="#272727" stroke-width="0.8"/>
<polygon points="273.8,259.3 289.4,262.9 292.1,251.2 276.5,247.6" fill="#272727"  stroke="#272727" stroke-width="0.8"/>
<polygon points="306.3,268.8 321.0,275.2 325.8,264.3 311.2,257.8" fill="#272727"  stroke="#272727" stroke-width="0.8"/>
<polygon points="336.2,285.3 348.8,295.1 356.2,285.6 343.6,275.8" fill="#272727"  stroke="#272727" stroke-width="0.8"/>
<polygon points="362.6,309.0 372.5,321.6 381.9,314.2 372.0,301.6" fill="#272727"  stroke="#272727" stroke-width="0.8"/>
<polygon points="381.6,337.3 389.0,351.5 399.7,345.9 392.3,331.7" fill="#272727"  stroke="#272727" stroke-width="0.8"/>
<polygon points="395.9,368.2 400.4,383.5 411.9,380.2 407.4,364.8" fill="#272727"  stroke="#272727" stroke-width="0.8"/>
<polygon points="403.3,403.3 404.8,419.2 416.7,418.1 415.2,402.2" fill="#272727"  stroke="#272727" stroke-width="0.8"/>
<polygon points="404.3,438.7 402.8,454.6 414.8,455.8 416.3,439.8" fill="#272727"  stroke="#272727" stroke-width="0.8"/>
<polygon points="399.8,472.8 395.2,488.1 406.7,491.6 411.3,476.3" fill="#272727"  stroke="#272727" stroke-width="0.8"/>
<polygon points="387.7,506.7 380.5,521.0 391.2,526.4 398.4,512.1" fill="#272727"  stroke="#272727" stroke-width="0.8"/>
<polygon points="365.4,533.9 354.8,545.9 363.7,553.8 374.4,541.9" fill="#272727"  stroke="#272727" stroke-width="0.8"/>
<path d="M73.0,357.0 C74.0,354.2 76.2,345.3 79.0,340.0 C81.8,334.7 83.2,332.2 90.0,325.0 C96.8,317.8 108.8,305.8 120.0,297.0 C131.2,288.2 145.2,278.2 157.0,272.0 C168.8,265.8 178.7,263.0 191.0,260.0 C203.3,257.0 217.5,254.7 231.0,254.0 C244.5,253.3 258.5,253.7 272.0,256.0 C285.5,258.3 300.3,263.0 312.0,268.0 C323.7,273.0 332.7,278.8 342.0,286.0 C351.3,293.2 360.3,301.5 368.0,311.0 C375.7,320.5 382.5,332.3 388.0,343.0 C393.5,353.7 397.8,363.7 401.0,375.0 C404.2,386.3 406.0,399.8 407.0,411.0 C408.0,422.2 407.7,432.2 407.0,442.0 C406.3,451.8 404.5,462.3 403.0,470.0 C401.5,477.7 401.2,479.7 398.0,488.0 C394.8,496.3 389.7,511.3 384.0,520.0 C378.3,528.7 370.5,532.8 364.0,540.0 C357.5,547.2 351.8,559.2 345.0,563.0 C338.2,566.8 326.7,563.0 323.0,563.0 L323.0,562.0 C314.5,561.8 285.5,562.2 272.0,561.0 C258.5,559.8 252.0,558.0 242.0,555.0 C232.0,552.0 222.2,547.7 212.0,543.0 C201.8,538.3 191.2,533.3 181.0,527.0 C170.8,520.7 160.7,512.8 151.0,505.0 C141.3,497.2 132.0,489.2 123.0,480.0 C114.0,470.8 103.3,458.5 97.0,450.0 C90.7,441.5 88.5,437.0 85.0,429.0 C81.5,421.0 78.0,411.0 76.0,402.0 C74.0,393.0 73.5,382.5 73.0,375.0 C72.5,367.5 73.0,360.0 73.0,357.0 Z" fill="url(#ballL)"/>
<polygon points="257.7,308.4 260.1,302.0 270.1,301.0 277.6,306.5 275.2,312.9 265.3,313.9" fill="#292929"  stroke="#292929" stroke-width="0.8"/>
<polygon points="254.7,304.4 257.1,298.0 267.1,297.0 274.6,302.5 272.2,308.9 262.3,309.9" fill="#252525"  stroke="#252525" stroke-width="0.8"/>
<polygon points="255.6,299.1 258.0,292.7 268.0,291.8 275.6,297.3 273.2,303.7 263.2,304.6" fill="#3a3a3a"  stroke="#3a3a3a" stroke-width="0.8"/>
<polygon points="280.1,295.1 282.3,290.3 292.0,291.0 299.4,296.5 297.1,301.3 287.5,300.6" fill="#292929"  stroke="#292929" stroke-width="0.8"/>
<polygon points="277.1,291.1 279.3,286.3 289.0,287.0 296.4,292.5 294.1,297.3 284.5,296.6" fill="#252525"  stroke="#252525" stroke-width="0.8"/>
<polygon points="278.9,285.3 281.2,280.6 290.8,281.2 298.3,286.7 296.0,291.5 286.4,290.8" fill="#3a3a3a"  stroke="#3a3a3a" stroke-width="0.8"/>
<polygon points="312.1,300.2 314.2,296.2 323.1,298.8 329.9,305.3 327.9,309.2 319.0,306.7" fill="#292929"  stroke="#292929" stroke-width="0.8"/>
<polygon points="309.1,296.2 311.2,292.2 320.1,294.8 326.9,301.3 324.9,305.2 316.0,302.7" fill="#252525"  stroke="#252525" stroke-width="0.8"/>
<polygon points="312.3,290.7 314.4,286.7 323.3,289.3 330.1,295.8 328.1,299.8 319.2,297.2" fill="#3a3a3a"  stroke="#3a3a3a" stroke-width="0.8"/>
<polygon points="338.8,321.1 341.4,317.0 349.4,320.9 355.0,328.9 352.5,333.1 344.4,329.1" fill="#292929"  stroke="#292929" stroke-width="0.8"/>
<polygon points="335.8,317.1 338.4,313.0 346.4,316.9 352.0,324.9 349.5,329.1 341.4,325.1" fill="#252525"  stroke="#252525" stroke-width="0.8"/>
<polygon points="340.2,312.6 342.7,308.5 350.7,312.4 356.3,320.4 353.8,324.5 345.7,320.6" fill="#3a3a3a"  stroke="#3a3a3a" stroke-width="0.8"/>
<polygon points="347.5,348.0 351.2,343.0 359.0,347.3 363.1,356.5 359.4,361.5 351.6,357.2" fill="#292929"  stroke="#292929" stroke-width="0.8"/>
<polygon points="344.5,344.0 348.2,339.0 356.0,343.3 360.1,352.5 356.4,357.5 348.6,353.2" fill="#252525"  stroke="#252525" stroke-width="0.8"/>
<polygon points="349.2,340.6 352.9,335.7 360.7,340.0 364.8,349.2 361.1,354.1 353.3,349.9" fill="#3a3a3a"  stroke="#3a3a3a" stroke-width="0.8"/>
<polygon points="333.8,368.3 338.5,362.0 346.9,365.4 350.7,375.0 346.0,381.3 337.5,378.0" fill="#292929"  stroke="#292929" stroke-width="0.8"/>
<polygon points="330.8,364.3 335.5,358.0 343.9,361.4 347.7,371.0 343.0,377.3 334.5,374.0" fill="#252525"  stroke="#252525" stroke-width="0.8"/>
<polygon points="334.9,361.8 339.6,355.5 348.1,358.8 351.8,368.5 347.1,374.8 338.7,371.5" fill="#3a3a3a"  stroke="#3a3a3a" stroke-width="0.8"/>
<polygon points="304.3,373.1 308.6,365.2 318.2,366.3 323.4,375.3 319.1,383.2 309.5,382.1" fill="#292929"  stroke="#292929" stroke-width="0.8"/>
<polygon points="301.3,369.1 305.6,361.2 315.2,362.3 320.4,371.3 316.1,379.2 306.5,378.1" fill="#252525"  stroke="#252525" stroke-width="0.8"/>
<polygon points="304.2,366.7 308.5,358.8 318.1,359.9 323.3,368.9 319.0,376.8 309.5,375.7" fill="#3a3a3a"  stroke="#3a3a3a" stroke-width="0.8"/>
<polygon points="273.5,359.6 276.5,351.0 286.5,350.0 293.4,357.7 290.3,366.3 280.4,367.3" fill="#292929"  stroke="#292929" stroke-width="0.8"/>
<polygon points="270.5,355.6 273.5,347.0 283.5,346.0 290.4,353.7 287.3,362.3 277.4,363.3" fill="#252525"  stroke="#252525" stroke-width="0.8"/>
<polygon points="272.1,352.6 275.1,343.9 285.1,343.0 292.0,350.6 288.9,359.2 279.0,360.2" fill="#3a3a3a"  stroke="#3a3a3a" stroke-width="0.8"/>
<polygon points="255.2,333.9 257.6,326.0 267.7,324.3 275.2,330.6 272.7,338.6 262.7,340.2" fill="#292929"  stroke="#292929" stroke-width="0.8"/>
<polygon points="252.2,329.9 254.6,322.0 264.7,320.3 272.2,326.6 269.7,334.6 259.7,336.2" fill="#252525"  stroke="#252525" stroke-width="0.8"/>
<polygon points="253.0,325.7 255.5,317.8 265.5,316.1 273.0,322.4 270.6,330.4 260.5,332.0" fill="#3a3a3a"  stroke="#3a3a3a" stroke-width="0.8"/>
<polygon points="232.1,283.9 234.3,279.5 244.3,277.9 252.1,280.8 249.8,285.1 239.8,286.7" fill="#292929"  stroke="#292929" stroke-width="0.8"/>
<polygon points="229.1,279.9 231.3,275.5 241.3,273.9 249.1,276.8 246.8,281.1 236.8,282.7" fill="#252525"  stroke="#252525" stroke-width="0.8"/>
<polygon points="228.9,273.5 231.1,269.2 241.1,267.6 248.9,270.4 246.6,274.8 236.6,276.4" fill="#3a3a3a"  stroke="#3a3a3a" stroke-width="0.8"/>
<polygon points="284.2,275.9 285.4,274.0 294.6,275.9 302.7,279.6 301.4,281.5 292.2,279.7" fill="#292929"  stroke="#292929" stroke-width="0.8"/>
<polygon points="281.2,271.9 282.4,270.0 291.6,271.9 299.7,275.6 298.4,277.5 289.2,275.7" fill="#252525"  stroke="#252525" stroke-width="0.8"/>
<polygon points="283.2,265.4 284.4,263.5 293.7,265.3 301.7,269.1 300.5,271.0 291.2,269.1" fill="#3a3a3a"  stroke="#3a3a3a" stroke-width="0.8"/>
<polygon points="341.2,301.1 341.7,299.3 349.0,304.2 355.8,310.8 355.3,312.5 348.0,307.6" fill="#292929"  stroke="#292929" stroke-width="0.8"/>
<polygon points="338.2,297.1 338.7,295.3 346.0,300.2 352.8,306.8 352.3,308.5 345.0,303.6" fill="#252525"  stroke="#252525" stroke-width="0.8"/>
<polygon points="342.6,291.7 343.1,290.0 350.4,294.9 357.2,301.4 356.7,303.1 349.4,298.3" fill="#3a3a3a"  stroke="#3a3a3a" stroke-width="0.8"/>
<polygon points="375.7,347.3 377.8,344.6 383.5,350.9 387.2,359.9 385.2,362.6 379.4,356.3" fill="#292929"  stroke="#292929" stroke-width="0.8"/>
<polygon points="372.7,343.3 374.8,340.6 380.5,346.9 384.2,355.9 382.2,358.6 376.4,352.3" fill="#252525"  stroke="#252525" stroke-width="0.8"/>
<polygon points="378.5,340.0 380.6,337.3 386.3,343.6 390.1,352.6 388.0,355.4 382.3,349.1" fill="#3a3a3a"  stroke="#3a3a3a" stroke-width="0.8"/>
<polygon points="371.2,392.2 376.1,388.3 381.9,394.6 382.8,404.8 377.8,408.7 372.0,402.4" fill="#292929"  stroke="#292929" stroke-width="0.8"/>
<polygon points="368.2,388.2 373.1,384.3 378.9,390.6 379.8,400.8 374.8,404.7 369.0,398.4" fill="#252525"  stroke="#252525" stroke-width="0.8"/>
<polygon points="373.8,386.9 378.8,383.0 384.5,389.2 385.4,399.5 380.5,403.4 374.7,397.1" fill="#3a3a3a"  stroke="#3a3a3a" stroke-width="0.8"/>
<polygon points="328.8,416.1 335.2,409.3 343.5,412.9 345.4,423.2 339.0,430.0 330.7,426.4" fill="#292929"  stroke="#292929" stroke-width="0.8"/>
<polygon points="325.8,412.1 332.2,405.3 340.5,408.9 342.4,419.2 336.0,426.0 327.7,422.4" fill="#252525"  stroke="#252525" stroke-width="0.8"/>
<polygon points="329.7,411.6 336.1,404.9 344.4,408.5 346.3,418.8 339.9,425.5 331.6,422.0" fill="#3a3a3a"  stroke="#3a3a3a" stroke-width="0.8"/>
<polygon points="270.5,409.1 273.5,399.3 283.5,397.3 290.5,405.1 287.5,414.9 277.5,416.9" fill="#292929"  stroke="#292929" stroke-width="0.8"/>
<polygon points="267.5,405.1 270.5,395.3 280.5,393.3 287.5,401.1 284.5,410.9 274.5,412.9" fill="#252525"  stroke="#252525" stroke-width="0.8"/>
<polygon points="268.9,404.1 271.9,394.3 281.9,392.3 288.9,400.1 285.9,409.9 275.9,412.0" fill="#3a3a3a"  stroke="#3a3a3a" stroke-width="0.8"/>
<polygon points="224.0,370.9 225.2,361.3 234.7,357.1 243.2,362.6 242.1,372.2 232.5,376.4" fill="#292929"  stroke="#292929" stroke-width="0.8"/>
<polygon points="221.0,366.9 222.2,357.3 231.7,353.1 240.2,358.6 239.1,368.2 229.5,372.4" fill="#252525"  stroke="#252525" stroke-width="0.8"/>
<polygon points="220.5,364.2 221.6,354.6 231.2,350.4 239.7,355.8 238.5,365.5 228.9,369.7" fill="#3a3a3a"  stroke="#3a3a3a" stroke-width="0.8"/>
<polygon points="208.7,321.2 210.5,313.6 220.2,309.9 228.2,313.7 226.4,321.3 216.6,325.1" fill="#292929"  stroke="#292929" stroke-width="0.8"/>
<polygon points="205.7,317.2 207.5,309.6 217.2,305.9 225.2,309.7 223.4,317.3 213.6,321.1" fill="#252525"  stroke="#252525" stroke-width="0.8"/>
<polygon points="204.5,312.4 206.3,304.8 216.1,301.0 224.0,304.9 222.2,312.5 212.4,316.2" fill="#3a3a3a"  stroke="#3a3a3a" stroke-width="0.8"/>
<polygon points="175.9,301.1 178.4,295.5 187.8,290.9 194.7,291.9 192.2,297.6 182.8,302.2" fill="#292929"  stroke="#292929" stroke-width="0.8"/>
<polygon points="172.9,297.1 175.4,291.5 184.8,286.9 191.7,287.9 189.2,293.6 179.8,298.2" fill="#252525"  stroke="#252525" stroke-width="0.8"/>
<polygon points="170.3,291.4 172.8,285.7 182.2,281.1 189.1,282.2 186.6,287.8 177.2,292.4" fill="#3a3a3a"  stroke="#3a3a3a" stroke-width="0.8"/>
<polygon points="197.8,279.6 200.6,276.4 210.5,273.5 217.6,273.7 214.8,276.9 204.9,279.8" fill="#292929"  stroke="#292929" stroke-width="0.8"/>
<polygon points="194.8,275.6 197.6,272.4 207.5,269.5 214.6,269.7 211.8,272.9 201.9,275.8" fill="#252525"  stroke="#252525" stroke-width="0.8"/>
<polygon points="193.2,269.0 196.0,265.8 205.9,262.9 213.0,263.1 210.1,266.3 200.2,269.3" fill="#3a3a3a"  stroke="#3a3a3a" stroke-width="0.8"/>
<polygon points="399.7,399.4 402.1,397.9 404.8,406.0 405.2,415.7 402.8,417.2 400.1,409.1" fill="#292929"  stroke="#292929" stroke-width="0.8"/>
<polygon points="396.7,395.4 399.1,393.9 401.8,402.0 402.2,411.7 399.8,413.2 397.1,405.1" fill="#252525"  stroke="#252525" stroke-width="0.8"/>
<polygon points="403.5,394.5 405.8,392.9 408.5,401.0 408.9,410.7 406.5,412.3 403.8,404.2" fill="#3a3a3a"  stroke="#3a3a3a" stroke-width="0.8"/>
<polygon points="389.9,427.7 394.5,426.0 397.1,434.2 395.2,444.0 390.6,445.6 388.0,437.5" fill="#292929"  stroke="#292929" stroke-width="0.8"/>
<polygon points="386.9,423.7 391.5,422.0 394.1,430.2 392.2,440.0 387.6,441.6 385.0,433.5" fill="#252525"  stroke="#252525" stroke-width="0.8"/>
<polygon points="393.2,423.9 397.8,422.3 400.4,430.4 398.5,440.2 393.9,441.9 391.2,433.7" fill="#3a3a3a"  stroke="#3a3a3a" stroke-width="0.8"/>
<polygon points="366.6,447.9 373.4,445.9 376.9,453.6 373.6,463.5 366.8,465.5 363.3,457.8" fill="#292929"  stroke="#292929" stroke-width="0.8"/>
<polygon points="363.6,443.9 370.4,441.9 373.9,449.6 370.6,459.5 363.8,461.5 360.3,453.8" fill="#252525"  stroke="#252525" stroke-width="0.8"/>
<polygon points="369.0,445.0 375.8,443.0 379.2,450.7 375.9,460.6 369.1,462.6 365.6,454.9" fill="#3a3a3a"  stroke="#3a3a3a" stroke-width="0.8"/>
<polygon points="331.6,458.9 339.9,454.5 346.2,460.4 344.2,470.6 335.9,475.0 329.6,469.1" fill="#292929"  stroke="#292929" stroke-width="0.8"/>
<polygon points="328.6,454.9 336.9,450.5 343.2,456.4 341.2,466.6 332.9,471.0 326.6,465.1" fill="#252525"  stroke="#252525" stroke-width="0.8"/>
<polygon points="332.5,456.4 340.8,452.0 347.1,457.9 345.1,468.1 336.8,472.5 330.5,466.6" fill="#3a3a3a"  stroke="#3a3a3a" stroke-width="0.8"/>
<polygon points="289.8,462.4 295.0,453.3 304.9,452.8 309.7,461.5 304.5,470.6 294.6,471.1" fill="#292929"  stroke="#292929" stroke-width="0.8"/>
<polygon points="286.8,458.4 292.0,449.3 301.9,448.8 306.7,457.5 301.5,466.6 291.6,467.1" fill="#252525"  stroke="#252525" stroke-width="0.8"/>
<polygon points="289.2,459.7 294.3,450.6 304.3,450.2 309.0,458.9 303.8,468.0 293.9,468.4" fill="#3a3a3a"  stroke="#3a3a3a" stroke-width="0.8"/>
<polygon points="251.1,452.7 251.4,442.2 260.6,437.1 269.5,442.5 269.2,452.9 260.1,458.0" fill="#292929"  stroke="#292929" stroke-width="0.8"/>
<polygon points="248.1,448.7 248.4,438.2 257.6,433.1 266.5,438.5 266.2,448.9 257.1,454.0" fill="#252525"  stroke="#252525" stroke-width="0.8"/>
<polygon points="248.7,449.4 249.0,439.0 258.2,433.9 267.1,439.2 266.9,449.7 257.7,454.8" fill="#3a3a3a"  stroke="#3a3a3a" stroke-width="0.8"/>
<polygon points="216.0,429.7 214.7,419.3 223.1,413.0 232.6,417.0 233.9,427.4 225.6,433.8" fill="#292929"  stroke="#292929" stroke-width="0.8"/>
<polygon points="213.0,425.7 211.7,415.3 220.1,409.0 229.6,413.0 230.9,423.4 222.6,429.8" fill="#252525"  stroke="#252525" stroke-width="0.8"/>
<polygon points="212.1,425.5 210.8,415.1 219.1,408.7 228.7,412.7 230.0,423.1 221.7,429.5" fill="#3a3a3a"  stroke="#3a3a3a" stroke-width="0.8"/>
<polygon points="188.0,398.9 187.0,388.8 195.1,382.2 204.3,385.7 205.2,395.8 197.1,402.4" fill="#292929"  stroke="#292929" stroke-width="0.8"/>
<polygon points="185.0,394.9 184.0,384.8 192.1,378.2 201.3,381.7 202.2,391.8 194.1,398.4" fill="#252525"  stroke="#252525" stroke-width="0.8"/>
<polygon points="182.8,393.2 181.9,383.2 190.0,376.6 199.1,380.1 200.1,390.2 191.9,396.7" fill="#3a3a3a"  stroke="#3a3a3a" stroke-width="0.8"/>
<polygon points="170.8,364.4 170.9,355.1 179.2,348.8 187.5,351.7 187.3,361.0 179.0,367.3" fill="#292929"  stroke="#292929" stroke-width="0.8"/>
<polygon points="167.8,360.4 167.9,351.1 176.2,344.8 184.5,347.7 184.3,357.0 176.0,363.3" fill="#252525"  stroke="#252525" stroke-width="0.8"/>
<polygon points="164.9,357.3 165.0,348.1 173.4,341.7 181.6,344.7 181.5,353.9 173.1,360.2" fill="#3a3a3a"  stroke="#3a3a3a" stroke-width="0.8"/>
<polygon points="166.5,330.5 168.0,322.7 176.8,317.0 184.2,319.1 182.7,326.8 173.9,332.5" fill="#292929"  stroke="#292929" stroke-width="0.8"/>
<polygon points="163.5,326.5 165.0,318.7 173.8,313.0 181.2,315.1 179.7,322.8 170.9,328.5" fill="#252525"  stroke="#252525" stroke-width="0.8"/>
<polygon points="160.5,322.0 161.9,314.2 170.8,308.5 178.1,310.6 176.7,318.3 167.9,324.0" fill="#3a3a3a"  stroke="#3a3a3a" stroke-width="0.8"/>
<polygon points="152.3,298.7 156.1,294.7 165.0,289.2 170.2,287.7 166.4,291.8 157.5,297.3" fill="#292929"  stroke="#292929" stroke-width="0.8"/>
<polygon points="149.3,294.7 153.1,290.7 162.0,285.2 167.2,283.7 163.4,287.8 154.5,293.3" fill="#252525"  stroke="#252525" stroke-width="0.8"/>
<polygon points="145.7,288.9 149.4,284.8 158.4,279.3 163.5,277.8 159.8,281.9 150.8,287.4" fill="#3a3a3a"  stroke="#3a3a3a" stroke-width="0.8"/>
<polygon points="405.3,447.8 407.0,447.9 406.3,456.9 404.0,465.8 402.3,465.8 403.0,456.8" fill="#292929"  stroke="#292929" stroke-width="0.8"/>
<polygon points="402.3,443.8 404.0,443.9 403.3,452.9 401.0,461.8 399.3,461.8 400.0,452.8" fill="#252525"  stroke="#252525" stroke-width="0.8"/>
<polygon points="409.1,445.0 410.8,445.0 410.2,454.0 407.8,463.0 406.1,462.9 406.8,453.9" fill="#3a3a3a"  stroke="#3a3a3a" stroke-width="0.8"/>
<polygon points="386.3,476.9 390.3,478.1 389.0,487.1 383.8,495.0 379.8,493.9 381.1,484.9" fill="#292929"  stroke="#292929" stroke-width="0.8"/>
<polygon points="383.3,472.9 387.3,474.1 386.0,483.1 380.8,491.0 376.8,489.9 378.1,480.9" fill="#252525"  stroke="#252525" stroke-width="0.8"/>
<polygon points="389.3,475.3 393.3,476.5 392.0,485.5 386.8,493.4 382.8,492.3 384.0,483.3" fill="#3a3a3a"  stroke="#3a3a3a" stroke-width="0.8"/>
<polygon points="353.5,494.5 359.5,496.9 358.0,506.0 350.5,512.6 344.4,510.1 345.9,501.1" fill="#292929"  stroke="#292929" stroke-width="0.8"/>
<polygon points="350.5,490.5 356.5,492.9 355.0,502.0 347.5,508.6 341.4,506.1 342.9,497.1" fill="#252525"  stroke="#252525" stroke-width="0.8"/>
<polygon points="355.0,493.6 361.1,496.1 359.6,505.1 352.0,511.7 346.0,509.3 347.5,500.2" fill="#3a3a3a"  stroke="#3a3a3a" stroke-width="0.8"/>
<polygon points="307.6,498.8 316.7,499.8 318.5,508.3 311.2,515.8 302.0,514.8 300.2,506.3" fill="#292929"  stroke="#292929" stroke-width="0.8"/>
<polygon points="304.6,494.8 313.7,495.8 315.5,504.3 308.2,511.8 299.0,510.8 297.2,502.3" fill="#252525"  stroke="#252525" stroke-width="0.8"/>
<polygon points="307.3,498.2 316.4,499.2 318.2,507.6 310.9,515.1 301.7,514.1 300.0,505.6" fill="#3a3a3a"  stroke="#3a3a3a" stroke-width="0.8"/>
<polygon points="256.9,505.3 252.0,497.1 257.4,488.7 267.9,488.5 272.8,496.7 267.4,505.1" fill="#292929"  stroke="#292929" stroke-width="0.8"/>
<polygon points="253.9,501.3 249.0,493.1 254.4,484.7 264.9,484.5 269.8,492.7 264.4,501.1" fill="#252525"  stroke="#252525" stroke-width="0.8"/>
<polygon points="254.6,504.1 249.7,495.9 255.1,487.6 265.6,487.4 270.6,495.6 265.1,504.0" fill="#3a3a3a"  stroke="#3a3a3a" stroke-width="0.8"/>
<polygon points="211.6,482.0 206.4,473.0 211.6,464.5 221.9,465.0 227.1,474.0 221.9,482.5" fill="#292929"  stroke="#292929" stroke-width="0.8"/>
<polygon points="208.6,478.0 203.4,469.0 208.6,460.5 218.9,461.0 224.1,470.0 218.9,478.5" fill="#252525"  stroke="#252525" stroke-width="0.8"/>
<polygon points="207.3,479.9 202.1,470.9 207.3,462.4 217.6,462.9 222.8,471.9 217.6,480.4" fill="#3a3a3a"  stroke="#3a3a3a" stroke-width="0.8"/>
<polygon points="172.3,448.4 168.4,438.7 173.9,430.4 183.4,431.7 187.4,441.4 181.8,449.7" fill="#292929"  stroke="#292929" stroke-width="0.8"/>
<polygon points="169.3,444.4 165.4,434.7 170.9,426.4 180.4,427.7 184.4,437.4 178.8,445.7" fill="#252525"  stroke="#252525" stroke-width="0.8"/>
<polygon points="166.4,444.8 162.4,435.2 168.0,426.8 177.5,428.2 181.4,437.8 175.9,446.2" fill="#3a3a3a"  stroke="#3a3a3a" stroke-width="0.8"/>
<polygon points="144.3,408.6 142.3,398.9 148.5,390.9 156.7,392.5 158.7,402.1 152.5,410.1" fill="#292929"  stroke="#292929" stroke-width="0.8"/>
<polygon points="141.3,404.6 139.3,394.9 145.5,386.9 153.7,388.5 155.7,398.1 149.5,406.1" fill="#252525"  stroke="#252525" stroke-width="0.8"/>
<polygon points="137.2,403.3 135.2,393.7 141.4,385.6 149.6,387.2 151.6,396.8 145.4,404.9" fill="#3a3a3a"  stroke="#3a3a3a" stroke-width="0.8"/>
<polygon points="131.0,367.2 131.2,358.5 138.2,350.9 144.8,352.0 144.6,360.7 137.7,368.3" fill="#292929"  stroke="#292929" stroke-width="0.8"/>
<polygon points="128.0,363.2 128.2,354.5 135.2,346.9 141.8,348.0 141.6,356.7 134.7,364.3" fill="#252525"  stroke="#252525" stroke-width="0.8"/>
<polygon points="123.3,360.2 123.6,351.5 130.5,343.9 137.2,345.0 137.0,353.7 130.0,361.3" fill="#3a3a3a"  stroke="#3a3a3a" stroke-width="0.8"/>
<polygon points="133.8,329.2 136.1,322.4 144.0,315.6 149.5,315.5 147.1,322.4 139.3,329.2" fill="#292929"  stroke="#292929" stroke-width="0.8"/>
<polygon points="130.8,325.2 133.1,318.4 141.0,311.6 146.5,311.5 144.1,318.4 136.3,325.2" fill="#252525"  stroke="#252525" stroke-width="0.8"/>
<polygon points="126.3,320.6 128.7,313.8 136.5,306.9 142.0,306.9 139.7,313.7 131.8,320.6" fill="#3a3a3a"  stroke="#3a3a3a" stroke-width="0.8"/>
<polygon points="366.1,523.7 367.2,527.8 361.3,536.0 354.4,540.1 353.3,536.0 359.2,527.8" fill="#292929"  stroke="#292929" stroke-width="0.8"/>
<polygon points="363.1,519.7 364.2,523.8 358.3,532.0 351.4,536.1 350.3,532.0 356.2,523.8" fill="#252525"  stroke="#252525" stroke-width="0.8"/>
<polygon points="368.0,524.1 369.1,528.2 363.2,536.4 356.3,540.5 355.2,536.4 361.1,528.2" fill="#3a3a3a"  stroke="#3a3a3a" stroke-width="0.8"/>
<polygon points="327.3,537.7 326.1,544.8 317.4,550.6 309.9,549.5 311.1,542.5 319.8,536.6" fill="#292929"  stroke="#292929" stroke-width="0.8"/>
<polygon points="324.3,533.7 323.1,540.8 314.4,546.6 306.9,545.5 308.1,538.5 316.8,532.6" fill="#252525"  stroke="#252525" stroke-width="0.8"/>
<polygon points="327.4,538.6 326.2,545.6 317.5,551.5 310.0,550.4 311.3,543.4 319.9,537.5" fill="#3a3a3a"  stroke="#3a3a3a" stroke-width="0.8"/>
<polygon points="277.0,544.4 267.1,547.7 259.4,543.3 261.6,535.6 271.6,532.3 279.2,536.7" fill="#292929"  stroke="#292929" stroke-width="0.8"/>
<polygon points="274.0,540.4 264.1,543.7 256.4,539.3 258.6,531.6 268.6,528.3 276.2,532.7" fill="#252525"  stroke="#252525" stroke-width="0.8"/>
<polygon points="275.0,545.1 265.1,548.4 257.4,544.0 259.7,536.3 269.6,533.0 277.2,537.4" fill="#3a3a3a"  stroke="#3a3a3a" stroke-width="0.8"/>
<polygon points="219.3,530.1 209.9,525.6 208.9,516.9 217.3,512.7 226.8,517.2 227.7,525.9" fill="#292929"  stroke="#292929" stroke-width="0.8"/>
<polygon points="216.3,526.1 206.9,521.6 205.9,512.9 214.3,508.7 223.8,513.2 224.7,521.9" fill="#252525"  stroke="#252525" stroke-width="0.8"/>
<polygon points="215.1,530.0 205.7,525.5 204.7,516.8 213.1,512.6 222.6,517.1 223.6,525.8" fill="#3a3a3a"  stroke="#3a3a3a" stroke-width="0.8"/>
<polygon points="170.2,499.2 163.0,491.5 164.7,482.5 173.4,481.1 180.6,488.8 179.0,497.8" fill="#292929"  stroke="#292929" stroke-width="0.8"/>
<polygon points="167.2,495.2 160.0,487.5 161.7,478.5 170.4,477.1 177.6,484.8 176.0,493.8" fill="#252525"  stroke="#252525" stroke-width="0.8"/>
<polygon points="164.0,497.8 156.8,490.1 158.5,481.1 167.3,479.7 174.4,487.3 172.8,496.4" fill="#3a3a3a"  stroke="#3a3a3a" stroke-width="0.8"/>
<polygon points="132.2,458.9 127.7,449.9 130.8,440.9 138.5,441.0 143.0,450.0 139.9,459.0" fill="#292929"  stroke="#292929" stroke-width="0.8"/>
<polygon points="129.2,454.9 124.7,445.9 127.8,436.9 135.5,437.0 140.0,446.0 136.9,455.0" fill="#252525"  stroke="#252525" stroke-width="0.8"/>
<polygon points="124.5,455.8 119.9,446.7 123.1,437.7 130.7,437.8 135.3,446.9 132.1,455.9" fill="#3a3a3a"  stroke="#3a3a3a" stroke-width="0.8"/>
<polygon points="109.1,414.5 107.5,405.3 111.7,396.5 117.6,396.9 119.3,406.1 115.0,414.9" fill="#292929"  stroke="#292929" stroke-width="0.8"/>
<polygon points="106.1,410.5 104.5,401.3 108.7,392.5 114.6,392.9 116.3,402.1 112.0,410.9" fill="#252525"  stroke="#252525" stroke-width="0.8"/>
<polygon points="100.4,409.4 98.8,400.2 103.0,391.4 108.9,391.9 110.6,401.1 106.3,409.8" fill="#3a3a3a"  stroke="#3a3a3a" stroke-width="0.8"/>
<polygon points="103.1,371.1 104.4,362.9 109.9,354.5 113.9,354.3 112.5,362.4 107.1,370.8" fill="#292929"  stroke="#292929" stroke-width="0.8"/>
<polygon points="100.1,367.1 101.4,358.9 106.9,350.5 110.9,350.3 109.5,358.4 104.1,366.8" fill="#252525"  stroke="#252525" stroke-width="0.8"/>
<polygon points="94.2,364.2 95.5,356.0 100.9,347.6 105.0,347.4 103.6,355.6 98.2,364.0" fill="#3a3a3a"  stroke="#3a3a3a" stroke-width="0.8"/>
<polygon points="102.6,464.7 98.9,455.8 100.0,446.7 104.9,446.6 108.7,455.5 107.5,464.6" fill="#292929"  stroke="#292929" stroke-width="0.8"/>
<polygon points="99.6,460.7 95.9,451.8 97.0,442.7 101.9,442.6 105.7,451.5 104.5,460.6" fill="#252525"  stroke="#252525" stroke-width="0.8"/>
<polygon points="93.5,461.8 89.7,452.9 90.9,443.8 95.8,443.7 99.5,452.6 98.4,461.7" fill="#3a3a3a"  stroke="#3a3a3a" stroke-width="0.8"/>
<polygon points="87.7,420.4 87.3,411.4 89.7,402.3 92.5,402.3 93.0,411.3 90.5,420.3" fill="#292929"  stroke="#292929" stroke-width="0.8"/>
<polygon points="84.7,416.4 84.3,407.4 86.7,398.3 89.5,398.3 90.0,407.3 87.5,416.3" fill="#252525"  stroke="#252525" stroke-width="0.8"/>
<polygon points="78.0,415.6 77.6,406.6 80.0,397.5 82.8,397.5 83.3,406.5 80.9,415.5" fill="#3a3a3a"  stroke="#3a3a3a" stroke-width="0.8"/>
<ellipse cx="315.0" cy="318.0" rx="11.0" ry="8.0" fill="#111" transform="rotate(-20.0 315.0 318.0)" />
<polygon points="42.6,464.8 40.5,457.0 42.4,449.2 46.4,449.3 48.4,457.1 46.5,464.9" fill="#292929"  stroke="#292929" stroke-width="0.8"/>
<polygon points="39.6,460.8 37.5,453.0 39.4,445.2 43.4,445.3 45.4,453.1 43.5,460.9" fill="#252525"  stroke="#252525" stroke-width="0.8"/>
<polygon points="35.1,460.9 33.0,453.1 34.9,445.3 38.9,445.4 41.0,453.2 39.1,461.0" fill="#363636"  stroke="#363636" stroke-width="0.8"/>
<polygon points="63.5,462.5 60.8,454.6 63.7,446.9 69.4,447.2 72.1,455.1 69.2,462.8" fill="#292929"  stroke="#292929" stroke-width="0.8"/>
<polygon points="60.5,458.5 57.8,450.6 60.7,442.9 66.4,443.2 69.1,451.1 66.2,458.8" fill="#252525"  stroke="#252525" stroke-width="0.8"/>
<polygon points="56.6,458.5 53.9,450.6 56.8,443.0 62.5,443.2 65.2,451.1 62.3,458.8" fill="#363636"  stroke="#363636" stroke-width="0.8"/>
<polygon points="282.3,608.8 277.8,613.8 269.3,616.1 265.3,613.6 269.9,608.7 278.4,606.3" fill="#292929"  stroke="#292929" stroke-width="0.8"/>
<polygon points="279.3,604.8 274.8,609.8 266.3,612.1 262.3,609.6 266.9,604.7 275.4,602.3" fill="#252525"  stroke="#252525" stroke-width="0.8"/>
<polygon points="281.0,609.0 276.4,613.9 267.9,616.3 263.9,613.8 268.5,608.9 277.0,606.5" fill="#363636"  stroke="#363636" stroke-width="0.8"/>
<polygon points="54.6,410.6 54.2,402.9 58.5,395.6 63.1,395.9 63.5,403.5 59.3,410.9" fill="#292929"  stroke="#292929" stroke-width="0.8"/>
<polygon points="51.6,406.6 51.2,398.9 55.5,391.6 60.1,391.9 60.5,399.5 56.3,406.9" fill="#252525"  stroke="#252525" stroke-width="0.8"/>
<polygon points="47.5,405.2 47.1,397.6 51.4,390.2 56.1,390.5 56.4,398.2 52.2,405.5" fill="#363636"  stroke="#363636" stroke-width="0.8"/>
<polygon points="324.2,571.0 325.1,576.0 319.1,582.5 312.2,584.0 311.4,579.0 317.3,572.6" fill="#292929"  stroke="#292929" stroke-width="0.8"/>
<polygon points="321.2,567.0 322.1,572.0 316.1,578.5 309.2,580.0 308.4,575.0 314.3,568.6" fill="#252525"  stroke="#252525" stroke-width="0.8"/>
<polygon points="324.0,570.3 324.9,575.3 318.9,581.8 312.0,583.3 311.2,578.3 317.1,571.8" fill="#363636"  stroke="#363636" stroke-width="0.8"/>
<path d="M1747.0,263.0 C1753.2,264.3 1773.8,265.8 1784.0,271.0 C1794.2,276.2 1799.0,283.3 1808.0,294.0 C1817.0,304.7 1831.0,320.7 1838.0,335.0 C1845.0,349.3 1847.5,369.2 1850.0,380.0 C1852.5,390.8 1853.5,390.0 1853.0,400.0 C1852.5,410.0 1850.0,426.5 1847.0,440.0 C1844.0,453.5 1840.8,467.5 1835.0,481.0 C1829.2,494.5 1820.8,509.7 1812.0,521.0 C1803.2,532.3 1793.7,540.5 1782.0,549.0 C1770.3,557.5 1755.5,565.8 1742.0,572.0 C1728.5,578.2 1716.2,583.0 1701.0,586.0 C1685.8,589.0 1666.0,590.3 1651.0,590.0 C1636.0,589.7 1622.8,587.0 1611.0,584.0 C1599.2,581.0 1588.5,576.5 1580.0,572.0 C1571.5,567.5 1566.3,562.8 1560.0,557.0 C1553.7,551.2 1545.0,540.3 1542.0,537.0 L1560,450 L1640,300 Z" fill="#2d2d2d"/>
<polygon points="1778.0,271.1 1792.0,278.8 1797.8,268.3 1783.7,260.6" fill="#272727"  stroke="#272727" stroke-width="0.8"/>
<polygon points="1802.9,292.6 1813.2,304.8 1822.4,297.1 1812.0,284.9" fill="#272727"  stroke="#272727" stroke-width="0.8"/>
<polygon points="1824.6,319.1 1833.7,332.3 1843.6,325.6 1834.5,312.4" fill="#272727"  stroke="#272727" stroke-width="0.8"/>
<polygon points="1840.9,351.7 1844.6,367.3 1856.3,364.5 1852.6,349.0" fill="#272727"  stroke="#272727" stroke-width="0.8"/>
<polygon points="1849.0,385.2 1851.0,401.1 1862.9,399.6 1860.9,383.7" fill="#272727"  stroke="#272727" stroke-width="0.8"/>
<polygon points="1847.6,421.1 1844.8,436.8 1856.6,438.9 1859.4,423.2" fill="#272727"  stroke="#272727" stroke-width="0.8"/>
<polygon points="1840.4,455.4 1836.0,470.8 1847.5,474.1 1851.9,458.7" fill="#272727"  stroke="#272727" stroke-width="0.8"/>
<polygon points="1827.7,489.9 1820.1,504.0 1830.7,509.6 1838.3,495.5" fill="#272727"  stroke="#272727" stroke-width="0.8"/>
<polygon points="1808.4,521.0 1797.6,532.9 1806.5,540.9 1817.3,529.1" fill="#272727"  stroke="#272727" stroke-width="0.8"/>
<polygon points="1783.8,544.0 1770.8,553.3 1777.7,563.1 1790.8,553.8" fill="#272727"  stroke="#272727" stroke-width="0.8"/>
<polygon points="1754.6,562.5 1740.3,569.7 1745.7,580.4 1760.0,573.2" fill="#272727"  stroke="#272727" stroke-width="0.8"/>
<polygon points="1722.1,577.1 1706.8,582.0 1710.5,593.4 1725.7,588.6" fill="#272727"  stroke="#272727" stroke-width="0.8"/>
<polygon points="1688.0,585.1 1672.0,586.7 1673.2,598.6 1689.2,597.0" fill="#272727"  stroke="#272727" stroke-width="0.8"/>
<polygon points="1651.8,587.1 1635.8,586.2 1635.1,598.1 1651.1,599.1" fill="#272727"  stroke="#272727" stroke-width="0.8"/>
<polygon points="1616.6,582.4 1601.1,578.3 1598.0,589.9 1613.5,594.0" fill="#272727"  stroke="#272727" stroke-width="0.8"/>
<polygon points="1584.4,571.2 1570.6,563.1 1564.5,573.4 1578.3,581.5" fill="#272727"  stroke="#272727" stroke-width="0.8"/>
<polygon points="1557.3,550.1 1546.8,538.1 1537.7,545.9 1548.2,558.0" fill="#272727"  stroke="#272727" stroke-width="0.8"/>
<path d="M1748.0,274.0 C1751.8,276.2 1765.0,280.3 1771.0,287.0 C1777.0,293.7 1781.3,305.2 1784.0,314.0 C1786.7,322.8 1786.8,331.8 1787.0,340.0 C1787.2,348.2 1786.2,356.3 1785.0,363.0 C1783.8,369.7 1783.2,371.8 1780.0,380.0 C1776.8,388.2 1771.7,400.8 1766.0,412.0 C1760.3,423.2 1753.3,435.5 1746.0,447.0 C1738.7,458.5 1731.2,470.3 1722.0,481.0 C1712.8,491.7 1701.2,502.3 1691.0,511.0 C1680.8,519.7 1670.7,527.0 1661.0,533.0 C1651.3,539.0 1642.3,543.7 1633.0,547.0 C1623.7,550.3 1613.8,552.7 1605.0,553.0 C1596.2,553.3 1587.5,552.0 1580.0,549.0 C1572.5,546.0 1563.3,537.3 1560.0,535.0 L1559.0,533.0 C1565.8,530.3 1587.7,523.7 1600.0,517.0 C1612.3,510.3 1622.8,501.3 1633.0,493.0 C1643.2,484.7 1651.3,476.8 1661.0,467.0 C1670.7,457.2 1682.2,445.2 1691.0,434.0 C1699.8,422.8 1708.0,409.8 1714.0,400.0 C1720.0,390.2 1722.7,384.5 1727.0,375.0 C1731.3,365.5 1736.7,352.7 1740.0,343.0 C1743.3,333.3 1745.5,325.8 1747.0,317.0 C1748.5,308.2 1749.0,298.7 1749.0,290.0 C1749.0,281.3 1747.3,269.2 1747.0,265.0 Z" fill="url(#bandR)"/>
<polygon points="1726.4,237.9 1715.3,226.3 1724.0,218.0 1735.0,229.6" fill="#272727"  stroke="#272727" stroke-width="0.8"/>
<polygon points="1698.3,217.8 1683.5,211.8 1687.9,200.7 1702.8,206.6" fill="#272727"  stroke="#272727" stroke-width="0.8"/>
<polygon points="1666.1,207.6 1650.4,204.6 1652.6,192.8 1668.3,195.8" fill="#272727"  stroke="#272727" stroke-width="0.8"/>
<polygon points="1630.0,202.2 1614.0,201.6 1614.4,189.6 1630.4,190.2" fill="#272727"  stroke="#272727" stroke-width="0.8"/>
<polygon points="1596.5,203.5 1580.7,206.3 1578.6,194.5 1594.3,191.7" fill="#272727"  stroke="#272727" stroke-width="0.8"/>
<polygon points="1562.5,211.7 1547.5,217.3 1543.3,206.0 1558.3,200.5" fill="#272727"  stroke="#272727" stroke-width="0.8"/>
<polygon points="1530.4,225.6 1516.6,233.7 1510.5,223.4 1524.3,215.3" fill="#272727"  stroke="#272727" stroke-width="0.8"/>
<polygon points="1502.4,244.2 1490.4,254.8 1482.5,245.7 1494.5,235.2" fill="#272727"  stroke="#272727" stroke-width="0.8"/>
<polygon points="1478.4,268.0 1468.4,280.5 1459.0,273.0 1469.0,260.5" fill="#272727"  stroke="#272727" stroke-width="0.8"/>
<polygon points="1457.5,297.4 1449.9,311.5 1439.3,305.8 1446.9,291.7" fill="#272727"  stroke="#272727" stroke-width="0.8"/>
<polygon points="1443.2,327.8 1438.1,342.9 1426.7,339.1 1431.9,323.9" fill="#272727"  stroke="#272727" stroke-width="0.8"/>
<polygon points="1433.8,360.6 1431.2,376.4 1419.4,374.5 1421.9,358.7" fill="#272727"  stroke="#272727" stroke-width="0.8"/>
<polygon points="1431.1,394.7 1433.1,410.6 1421.2,412.1 1419.2,396.2" fill="#272727"  stroke="#272727" stroke-width="0.8"/>
<polygon points="1435.2,429.3 1439.3,444.8 1427.7,447.9 1423.6,432.4" fill="#272727"  stroke="#272727" stroke-width="0.8"/>
<polygon points="1450.6,460.1 1460.7,472.5 1451.4,480.1 1441.3,467.7" fill="#272727"  stroke="#272727" stroke-width="0.8"/>
<polygon points="1473.2,488.6 1483.0,501.2 1473.5,508.6 1463.7,495.9" fill="#272727"  stroke="#272727" stroke-width="0.8"/>
<polygon points="1495.5,514.9 1507.9,525.1 1500.3,534.4 1487.9,524.2" fill="#272727"  stroke="#272727" stroke-width="0.8"/>
<polygon points="1524.3,530.5 1540.3,531.3 1539.7,543.3 1523.7,542.5" fill="#272727"  stroke="#272727" stroke-width="0.8"/>
<path d="M1747.0,265.0 C1743.0,259.2 1732.2,238.8 1723.0,230.0 C1713.8,221.2 1703.8,216.7 1692.0,212.0 C1680.2,207.3 1665.3,204.2 1652.0,202.0 C1638.7,199.8 1625.5,198.3 1612.0,199.0 C1598.5,199.7 1584.5,202.2 1571.0,206.0 C1557.5,209.8 1543.3,215.5 1531.0,222.0 C1518.7,228.5 1507.3,236.2 1497.0,245.0 C1486.7,253.8 1477.2,264.3 1469.0,275.0 C1460.8,285.7 1453.8,297.0 1448.0,309.0 C1442.2,321.0 1437.3,334.8 1434.0,347.0 C1430.7,359.2 1428.7,371.5 1428.0,382.0 C1427.3,392.5 1428.8,400.3 1430.0,410.0 C1431.2,419.7 1432.2,431.7 1435.0,440.0 C1437.8,448.3 1442.3,453.3 1447.0,460.0 C1451.7,466.7 1457.5,473.0 1463.0,480.0 C1468.5,487.0 1474.3,495.3 1480.0,502.0 C1485.7,508.7 1491.3,515.2 1497.0,520.0 C1502.7,524.8 1507.8,528.7 1514.0,531.0 C1520.2,533.3 1526.5,533.7 1534.0,534.0 C1541.5,534.3 1554.8,533.2 1559.0,533.0 L1559.0,533.0 C1565.8,530.3 1587.7,523.7 1600.0,517.0 C1612.3,510.3 1622.8,501.3 1633.0,493.0 C1643.2,484.7 1651.3,476.8 1661.0,467.0 C1670.7,457.2 1682.2,445.2 1691.0,434.0 C1699.8,422.8 1708.0,409.8 1714.0,400.0 C1720.0,390.2 1722.7,384.5 1727.0,375.0 C1731.3,365.5 1736.7,352.7 1740.0,343.0 C1743.3,333.3 1745.5,325.8 1747.0,317.0 C1748.5,308.2 1749.0,298.7 1749.0,290.0 C1749.0,281.3 1747.3,269.2 1747.0,265.0 Z" fill="url(#ballR)"/>
<polygon points="1463.7,351.5 1462.2,342.3 1467.1,333.7 1473.4,334.3 1474.9,343.5 1470.0,352.1" fill="#292929"  stroke="#292929" stroke-width="0.8"/>
<polygon points="1460.7,347.5 1459.2,338.3 1464.1,329.7 1470.4,330.3 1471.9,339.5 1467.0,348.1" fill="#252525"  stroke="#252525" stroke-width="0.8"/>
<polygon points="1455.2,346.2 1453.8,336.9 1458.6,328.3 1465.0,329.0 1466.4,338.2 1461.6,346.8" fill="#3a3a3a"  stroke="#3a3a3a" stroke-width="0.8"/>
<polygon points="1454.0,329.7 1454.2,321.0 1459.3,312.5 1464.2,312.7 1464.0,321.4 1458.9,329.9" fill="#292929"  stroke="#292929" stroke-width="0.8"/>
<polygon points="1451.0,325.7 1451.2,317.0 1456.3,308.5 1461.2,308.7 1461.0,317.4 1455.9,325.9" fill="#252525"  stroke="#252525" stroke-width="0.8"/>
<polygon points="1445.1,323.5 1445.4,314.8 1450.5,306.3 1455.4,306.4 1455.2,315.1 1450.1,323.7" fill="#3a3a3a"  stroke="#3a3a3a" stroke-width="0.8"/>
<polygon points="1461.7,298.7 1463.6,291.0 1470.0,283.1 1474.5,282.8 1472.7,290.6 1466.3,298.5" fill="#292929"  stroke="#292929" stroke-width="0.8"/>
<polygon points="1458.7,294.7 1460.6,287.0 1467.0,279.1 1471.5,278.8 1469.7,286.6 1463.3,294.5" fill="#252525"  stroke="#252525" stroke-width="0.8"/>
<polygon points="1453.3,291.1 1455.1,283.4 1461.5,275.5 1466.1,275.3 1464.3,283.0 1457.9,290.9" fill="#3a3a3a"  stroke="#3a3a3a" stroke-width="0.8"/>
<polygon points="1483.5,272.6 1485.9,265.8 1493.8,259.0 1499.3,259.0 1496.9,265.8 1489.0,272.6" fill="#292929"  stroke="#292929" stroke-width="0.8"/>
<polygon points="1480.5,268.6 1482.9,261.8 1490.8,255.0 1496.3,255.0 1493.9,261.8 1486.0,268.6" fill="#252525"  stroke="#252525" stroke-width="0.8"/>
<polygon points="1476.1,263.9 1478.4,257.1 1486.3,250.3 1491.8,250.3 1489.5,257.1 1481.6,263.9" fill="#3a3a3a"  stroke="#3a3a3a" stroke-width="0.8"/>
<polygon points="1509.2,263.6 1511.2,256.7 1520.0,251.0 1526.8,252.3 1524.8,259.2 1516.0,264.8" fill="#292929"  stroke="#292929" stroke-width="0.8"/>
<polygon points="1506.2,259.6 1508.2,252.7 1517.0,247.0 1523.8,248.3 1521.8,255.2 1513.0,260.8" fill="#252525"  stroke="#252525" stroke-width="0.8"/>
<polygon points="1502.9,254.6 1504.9,247.7 1513.7,242.0 1520.5,243.3 1518.5,250.2 1509.7,255.9" fill="#3a3a3a"  stroke="#3a3a3a" stroke-width="0.8"/>
<polygon points="1526.4,276.2 1527.8,268.2 1536.8,262.9 1544.6,265.6 1543.2,273.6 1534.1,278.9" fill="#292929"  stroke="#292929" stroke-width="0.8"/>
<polygon points="1523.4,272.2 1524.8,264.2 1533.8,258.9 1541.6,261.6 1540.2,269.6 1531.1,274.9" fill="#252525"  stroke="#252525" stroke-width="0.8"/>
<polygon points="1520.9,267.8 1522.2,259.8 1531.3,254.5 1539.0,257.2 1537.7,265.2 1528.6,270.5" fill="#3a3a3a"  stroke="#3a3a3a" stroke-width="0.8"/>
<polygon points="1527.1,304.6 1527.4,295.4 1536.0,289.5 1544.3,292.7 1544.0,301.9 1535.4,307.8" fill="#292929"  stroke="#292929" stroke-width="0.8"/>
<polygon points="1524.1,300.6 1524.4,291.4 1533.0,285.5 1541.3,288.7 1541.0,297.9 1532.4,303.8" fill="#252525"  stroke="#252525" stroke-width="0.8"/>
<polygon points="1521.5,297.4 1521.9,288.2 1530.5,282.2 1538.8,285.5 1538.4,294.6 1529.8,300.6" fill="#3a3a3a"  stroke="#3a3a3a" stroke-width="0.8"/>
<polygon points="1511.1,335.4 1510.0,325.7 1517.4,318.5 1525.9,320.9 1527.0,330.6 1519.6,337.8" fill="#292929"  stroke="#292929" stroke-width="0.8"/>
<polygon points="1508.1,331.4 1507.0,321.7 1514.4,314.5 1522.9,316.9 1524.0,326.6 1516.6,333.8" fill="#252525"  stroke="#252525" stroke-width="0.8"/>
<polygon points="1504.8,329.4 1503.7,319.7 1511.1,312.5 1519.7,315.0 1520.8,324.6 1513.3,331.9" fill="#3a3a3a"  stroke="#3a3a3a" stroke-width="0.8"/>
<polygon points="1486.2,353.8 1484.2,344.3 1490.0,336.1 1497.8,337.4 1499.8,346.9 1494.0,355.2" fill="#292929"  stroke="#292929" stroke-width="0.8"/>
<polygon points="1483.2,349.8 1481.2,340.3 1487.0,332.1 1494.8,333.4 1496.8,342.9 1491.0,351.2" fill="#252525"  stroke="#252525" stroke-width="0.8"/>
<polygon points="1478.8,348.6 1476.7,339.1 1482.5,330.9 1490.4,332.2 1492.4,341.7 1486.6,349.9" fill="#3a3a3a"  stroke="#3a3a3a" stroke-width="0.8"/>
<polygon points="1441.8,377.7 1440.1,368.6 1442.4,359.5 1446.3,359.6 1448.0,368.7 1445.7,377.8" fill="#292929"  stroke="#292929" stroke-width="0.8"/>
<polygon points="1438.8,373.7 1437.1,364.6 1439.4,355.5 1443.3,355.6 1445.0,364.7 1442.7,373.8" fill="#252525"  stroke="#252525" stroke-width="0.8"/>
<polygon points="1432.3,373.5 1430.6,364.4 1432.9,355.3 1436.8,355.4 1438.5,364.5 1436.2,373.6" fill="#3a3a3a"  stroke="#3a3a3a" stroke-width="0.8"/>
<polygon points="1513.5,238.4 1516.8,234.1 1526.1,229.2 1532.1,228.6 1528.8,232.8 1519.5,237.7" fill="#292929"  stroke="#292929" stroke-width="0.8"/>
<polygon points="1510.5,234.4 1513.8,230.1 1523.1,225.2 1529.1,224.6 1525.8,228.8 1516.5,233.7" fill="#252525"  stroke="#252525" stroke-width="0.8"/>
<polygon points="1507.4,228.3 1510.7,224.1 1520.0,219.2 1526.0,218.5 1522.7,222.8 1513.4,227.7" fill="#3a3a3a"  stroke="#3a3a3a" stroke-width="0.8"/>
<polygon points="1555.4,241.6 1557.6,235.8 1567.5,232.6 1575.1,235.2 1572.8,241.0 1563.0,244.2" fill="#292929"  stroke="#292929" stroke-width="0.8"/>
<polygon points="1552.4,237.6 1554.6,231.8 1564.5,228.6 1572.1,231.2 1569.8,237.0 1560.0,240.2" fill="#252525"  stroke="#252525" stroke-width="0.8"/>
<polygon points="1551.1,231.8 1553.4,226.0 1563.2,222.8 1570.8,225.4 1568.5,231.2 1558.7,234.4" fill="#3a3a3a"  stroke="#3a3a3a" stroke-width="0.8"/>
<polygon points="1572.5,281.0 1574.2,272.6 1584.0,269.2 1592.1,274.2 1590.3,282.6 1580.5,286.0" fill="#292929"  stroke="#292929" stroke-width="0.8"/>
<polygon points="1569.5,277.0 1571.2,268.6 1581.0,265.2 1589.1,270.2 1587.3,278.6 1577.5,282.0" fill="#252525"  stroke="#252525" stroke-width="0.8"/>
<polygon points="1568.9,272.9 1570.7,264.5 1580.5,261.1 1588.5,266.1 1586.8,274.5 1577.0,277.9" fill="#3a3a3a"  stroke="#3a3a3a" stroke-width="0.8"/>
<polygon points="1557.0,338.3 1556.9,328.2 1565.8,322.6 1574.8,327.1 1574.9,337.3 1566.1,342.9" fill="#292929"  stroke="#292929" stroke-width="0.8"/>
<polygon points="1554.0,334.3 1553.9,324.2 1562.8,318.6 1571.8,323.1 1571.9,333.3 1563.1,338.9" fill="#252525"  stroke="#252525" stroke-width="0.8"/>
<polygon points="1552.8,332.6 1552.7,322.4 1561.5,316.8 1570.6,321.3 1570.7,331.5 1561.8,337.1" fill="#3a3a3a"  stroke="#3a3a3a" stroke-width="0.8"/>
<polygon points="1518.1,386.2 1514.5,376.5 1520.2,368.2 1529.6,369.7 1533.2,379.4 1527.5,387.7" fill="#292929"  stroke="#292929" stroke-width="0.8"/>
<polygon points="1515.1,382.2 1511.5,372.5 1517.2,364.2 1526.6,365.7 1530.2,375.4 1524.5,383.7" fill="#252525"  stroke="#252525" stroke-width="0.8"/>
<polygon points="1512.0,382.4 1508.4,372.6 1514.2,364.4 1523.5,365.9 1527.2,375.6 1521.4,383.9" fill="#3a3a3a"  stroke="#3a3a3a" stroke-width="0.8"/>
<polygon points="1472.9,401.2 1468.6,392.1 1471.4,383.1 1478.5,383.1 1482.8,392.2 1480.0,401.2" fill="#292929"  stroke="#292929" stroke-width="0.8"/>
<polygon points="1469.9,397.2 1465.6,388.1 1468.4,379.1 1475.5,379.1 1479.8,388.2 1477.0,397.2" fill="#252525"  stroke="#252525" stroke-width="0.8"/>
<polygon points="1464.8,397.9 1460.5,388.9 1463.3,379.9 1470.4,379.9 1474.7,389.0 1471.9,398.0" fill="#3a3a3a"  stroke="#3a3a3a" stroke-width="0.8"/>
<polygon points="1456.0,434.7 1451.0,426.3 1450.5,417.5 1454.8,417.1 1459.8,425.5 1460.4,434.3" fill="#292929"  stroke="#292929" stroke-width="0.8"/>
<polygon points="1453.0,430.7 1448.0,422.3 1447.5,413.5 1451.8,413.1 1456.8,421.5 1457.4,430.3" fill="#252525"  stroke="#252525" stroke-width="0.8"/>
<polygon points="1447.0,432.9 1442.0,424.5 1441.5,415.7 1445.9,415.3 1450.8,423.8 1451.4,432.6" fill="#3a3a3a"  stroke="#3a3a3a" stroke-width="0.8"/>
<polygon points="1438.7,412.6 1436.0,403.5 1435.5,394.7 1437.7,395.0 1440.4,404.0 1440.9,412.8" fill="#292929"  stroke="#292929" stroke-width="0.8"/>
<polygon points="1435.7,408.6 1433.0,399.5 1432.5,390.7 1434.7,391.0 1437.4,400.0 1437.9,408.8" fill="#252525"  stroke="#252525" stroke-width="0.8"/>
<polygon points="1428.9,409.9 1426.3,400.8 1425.8,392.0 1428.0,392.2 1430.7,401.3 1431.2,410.1" fill="#3a3a3a"  stroke="#3a3a3a" stroke-width="0.8"/>
<polygon points="1568.0,217.0 1570.4,214.6 1580.5,213.0 1588.0,213.7 1585.6,216.0 1575.6,217.6" fill="#292929"  stroke="#292929" stroke-width="0.8"/>
<polygon points="1565.0,213.0 1567.4,210.6 1577.5,209.0 1585.0,209.7 1582.6,212.0 1572.6,213.6" fill="#252525"  stroke="#252525" stroke-width="0.8"/>
<polygon points="1564.3,206.1 1566.7,203.8 1576.7,202.2 1584.3,202.9 1581.9,205.2 1571.9,206.8" fill="#3a3a3a"  stroke="#3a3a3a" stroke-width="0.8"/>
<polygon points="1594.2,226.2 1596.4,222.1 1606.4,221.3 1614.2,224.5 1612.0,228.6 1602.1,229.4" fill="#292929"  stroke="#292929" stroke-width="0.8"/>
<polygon points="1591.2,222.2 1593.4,218.1 1603.4,217.3 1611.2,220.5 1609.0,224.6 1599.1,225.4" fill="#252525"  stroke="#252525" stroke-width="0.8"/>
<polygon points="1591.6,215.8 1593.8,211.7 1603.8,210.9 1611.6,214.1 1609.4,218.2 1599.5,219.0" fill="#3a3a3a"  stroke="#3a3a3a" stroke-width="0.8"/>
<polygon points="1611.5,248.1 1613.9,242.1 1623.8,241.5 1631.3,246.9 1628.9,252.9 1619.0,253.5" fill="#292929"  stroke="#292929" stroke-width="0.8"/>
<polygon points="1608.5,244.1 1610.9,238.1 1620.8,237.5 1628.3,242.9 1625.9,248.9 1616.0,249.5" fill="#252525"  stroke="#252525" stroke-width="0.8"/>
<polygon points="1609.6,238.6 1612.0,232.6 1621.9,232.1 1629.5,237.5 1627.1,243.5 1617.1,244.1" fill="#3a3a3a"  stroke="#3a3a3a" stroke-width="0.8"/>
<polygon points="1617.6,279.9 1620.4,272.1 1630.3,271.3 1637.5,278.2 1634.8,286.0 1624.8,286.8" fill="#292929"  stroke="#292929" stroke-width="0.8"/>
<polygon points="1614.6,275.9 1617.4,268.1 1627.3,267.3 1634.5,274.2 1631.8,282.0 1621.8,282.8" fill="#252525"  stroke="#252525" stroke-width="0.8"/>
<polygon points="1616.0,271.9 1618.8,264.1 1628.7,263.2 1635.9,270.1 1633.1,277.9 1623.2,278.8" fill="#3a3a3a"  stroke="#3a3a3a" stroke-width="0.8"/>
<polygon points="1611.9,318.2 1614.6,308.9 1624.6,306.9 1631.9,314.3 1629.2,323.6 1619.2,325.5" fill="#292929"  stroke="#292929" stroke-width="0.8"/>
<polygon points="1608.9,314.2 1611.6,304.9 1621.6,302.9 1628.9,310.3 1626.2,319.6 1616.2,321.5" fill="#252525"  stroke="#252525" stroke-width="0.8"/>
<polygon points="1610.1,311.7 1612.7,302.4 1622.7,300.4 1630.1,307.8 1627.4,317.1 1617.4,319.1" fill="#3a3a3a"  stroke="#3a3a3a" stroke-width="0.8"/>
<polygon points="1595.5,358.6 1596.8,348.2 1606.4,344.2 1614.8,350.5 1613.6,360.9 1603.9,364.9" fill="#292929"  stroke="#292929" stroke-width="0.8"/>
<polygon points="1592.5,354.6 1593.8,344.2 1603.4,340.2 1611.8,346.5 1610.6,356.9 1600.9,360.9" fill="#252525"  stroke="#252525" stroke-width="0.8"/>
<polygon points="1593.0,353.7 1594.2,343.4 1603.8,339.4 1612.2,345.7 1611.0,356.0 1601.4,360.0" fill="#3a3a3a"  stroke="#3a3a3a" stroke-width="0.8"/>
<polygon points="1571.6,396.3 1569.4,386.0 1577.2,379.1 1587.1,382.4 1589.3,392.7 1581.5,399.6" fill="#292929"  stroke="#292929" stroke-width="0.8"/>
<polygon points="1568.6,392.3 1566.4,382.0 1574.2,375.1 1584.1,378.4 1586.3,388.7 1578.5,395.6" fill="#252525"  stroke="#252525" stroke-width="0.8"/>
<polygon points="1567.9,393.0 1565.7,382.7 1573.5,375.8 1583.4,379.1 1585.6,389.4 1577.8,396.3" fill="#3a3a3a"  stroke="#3a3a3a" stroke-width="0.8"/>
<polygon points="1543.2,425.3 1537.5,416.5 1541.8,407.7 1551.8,407.8 1557.5,416.6 1553.2,425.3" fill="#292929"  stroke="#292929" stroke-width="0.8"/>
<polygon points="1540.2,421.3 1534.5,412.5 1538.8,403.7 1548.8,403.8 1554.5,412.6 1550.2,421.3" fill="#252525"  stroke="#252525" stroke-width="0.8"/>
<polygon points="1538.1,423.1 1532.5,414.3 1536.8,405.5 1546.8,405.6 1552.5,414.4 1548.2,423.1" fill="#3a3a3a"  stroke="#3a3a3a" stroke-width="0.8"/>
<polygon points="1512.1,441.7 1505.0,434.0 1506.6,424.9 1515.1,423.6 1522.1,431.4 1520.6,440.4" fill="#292929"  stroke="#292929" stroke-width="0.8"/>
<polygon points="1509.1,437.7 1502.0,430.0 1503.6,420.9 1512.1,419.6 1519.1,427.4 1517.6,436.4" fill="#252525"  stroke="#252525" stroke-width="0.8"/>
<polygon points="1505.6,440.3 1498.5,432.5 1500.1,423.4 1508.6,422.2 1515.6,429.9 1514.1,439.0" fill="#3a3a3a"  stroke="#3a3a3a" stroke-width="0.8"/>
<polygon points="1481.6,444.9 1475.0,437.0 1475.1,428.1 1481.6,427.0 1488.1,434.9 1488.1,443.8" fill="#292929"  stroke="#292929" stroke-width="0.8"/>
<polygon points="1478.6,440.9 1472.0,433.0 1472.1,424.1 1478.6,423.0 1485.1,430.9 1485.1,439.8" fill="#252525"  stroke="#252525" stroke-width="0.8"/>
<polygon points="1473.7,443.5 1467.2,435.7 1467.2,426.8 1473.7,425.7 1480.2,433.5 1480.2,442.4" fill="#3a3a3a"  stroke="#3a3a3a" stroke-width="0.8"/>
<polygon points="1456.6,459.3 1451.5,451.1 1448.1,443.3 1449.9,443.6 1455.0,451.7 1458.3,459.6" fill="#292929"  stroke="#292929" stroke-width="0.8"/>
<polygon points="1453.6,455.3 1448.5,447.1 1445.1,439.3 1446.9,439.6 1452.0,447.7 1455.3,455.6" fill="#252525"  stroke="#252525" stroke-width="0.8"/>
<polygon points="1447.5,458.6 1442.4,450.4 1439.0,442.6 1440.8,442.9 1445.9,451.1 1449.3,458.9" fill="#3a3a3a"  stroke="#3a3a3a" stroke-width="0.8"/>
<polygon points="1618.6,214.5 1619.7,213.3 1629.2,214.7 1637.4,217.2 1636.2,218.4 1626.8,217.1" fill="#292929"  stroke="#292929" stroke-width="0.8"/>
<polygon points="1615.6,210.5 1616.7,209.3 1626.2,210.7 1634.4,213.2 1633.2,214.4 1623.8,213.1" fill="#252525"  stroke="#252525" stroke-width="0.8"/>
<polygon points="1617.0,203.7 1618.2,202.5 1627.6,203.9 1635.9,206.5 1634.7,207.6 1625.2,206.3" fill="#3a3a3a"  stroke="#3a3a3a" stroke-width="0.8"/>
<polygon points="1645.0,233.5 1646.8,229.9 1656.1,231.8 1663.5,237.2 1661.7,240.8 1652.4,238.9" fill="#292929"  stroke="#292929" stroke-width="0.8"/>
<polygon points="1642.0,229.5 1643.8,225.9 1653.1,227.8 1660.5,233.2 1658.7,236.8 1649.4,234.9" fill="#252525"  stroke="#252525" stroke-width="0.8"/>
<polygon points="1644.6,223.5 1646.4,220.0 1655.6,221.9 1663.0,227.3 1661.2,230.8 1652.0,229.0" fill="#3a3a3a"  stroke="#3a3a3a" stroke-width="0.8"/>
<polygon points="1659.2,265.9 1662.2,260.2 1671.4,262.2 1677.6,269.8 1674.6,275.5 1665.4,273.6" fill="#292929"  stroke="#292929" stroke-width="0.8"/>
<polygon points="1656.2,261.9 1659.2,256.2 1668.4,258.2 1674.6,265.8 1671.6,271.5 1662.4,269.6" fill="#252525"  stroke="#252525" stroke-width="0.8"/>
<polygon points="1659.4,257.4 1662.4,251.6 1671.5,253.6 1677.7,261.3 1674.7,267.0 1665.5,265.0" fill="#3a3a3a"  stroke="#3a3a3a" stroke-width="0.8"/>
<polygon points="1659.3,307.9 1663.6,300.5 1672.9,302.1 1678.1,311.1 1673.8,318.5 1664.5,316.9" fill="#292929"  stroke="#292929" stroke-width="0.8"/>
<polygon points="1656.3,303.9 1660.6,296.5 1669.9,298.1 1675.1,307.1 1670.8,314.5 1661.5,312.9" fill="#252525"  stroke="#252525" stroke-width="0.8"/>
<polygon points="1659.5,301.1 1663.7,293.7 1673.1,295.3 1678.2,304.3 1674.0,311.8 1664.6,310.2" fill="#3a3a3a"  stroke="#3a3a3a" stroke-width="0.8"/>
<polygon points="1645.4,354.9 1650.1,346.0 1659.9,346.3 1664.9,355.5 1660.1,364.4 1650.4,364.1" fill="#292929"  stroke="#292929" stroke-width="0.8"/>
<polygon points="1642.4,350.9 1647.1,342.0 1656.9,342.3 1661.9,351.5 1657.1,360.4 1647.4,360.1" fill="#252525"  stroke="#252525" stroke-width="0.8"/>
<polygon points="1645.0,350.1 1649.7,341.2 1659.5,341.5 1664.5,350.7 1659.7,359.6 1650.0,359.3" fill="#3a3a3a"  stroke="#3a3a3a" stroke-width="0.8"/>
<polygon points="1619.5,402.8 1621.9,392.6 1631.7,389.3 1639.2,396.2 1636.8,406.3 1627.0,409.7" fill="#292929"  stroke="#292929" stroke-width="0.8"/>
<polygon points="1616.5,398.8 1618.9,388.6 1628.7,385.3 1636.2,392.2 1633.8,402.3 1624.0,405.7" fill="#252525"  stroke="#252525" stroke-width="0.8"/>
<polygon points="1618.0,399.9 1620.4,389.7 1630.2,386.4 1637.7,393.3 1635.3,403.4 1625.5,406.8" fill="#3a3a3a"  stroke="#3a3a3a" stroke-width="0.8"/>
<polygon points="1589.7,445.7 1584.0,437.6 1588.7,428.9 1599.2,428.4 1604.9,436.5 1600.2,445.1" fill="#292929"  stroke="#292929" stroke-width="0.8"/>
<polygon points="1586.7,441.7 1581.0,433.6 1585.7,424.9 1596.2,424.4 1601.9,432.5 1597.2,441.1" fill="#252525"  stroke="#252525" stroke-width="0.8"/>
<polygon points="1586.7,444.4 1580.9,436.3 1585.7,427.6 1596.1,427.1 1601.9,435.2 1597.2,443.8" fill="#3a3a3a"  stroke="#3a3a3a" stroke-width="0.8"/>
<polygon points="1555.4,472.0 1546.2,466.9 1545.5,458.2 1553.9,454.5 1563.0,459.6 1563.8,468.3" fill="#292929"  stroke="#292929" stroke-width="0.8"/>
<polygon points="1552.4,468.0 1543.2,462.9 1542.5,454.2 1550.9,450.5 1560.0,455.6 1560.8,464.3" fill="#252525"  stroke="#252525" stroke-width="0.8"/>
<polygon points="1550.7,471.8 1541.5,466.7 1540.7,458.0 1549.1,454.3 1558.3,459.4 1559.1,468.1" fill="#3a3a3a"  stroke="#3a3a3a" stroke-width="0.8"/>
<polygon points="1517.4,483.1 1508.5,477.9 1505.8,469.8 1512.0,466.9 1520.9,472.1 1523.6,480.3" fill="#292929"  stroke="#292929" stroke-width="0.8"/>
<polygon points="1514.4,479.1 1505.5,473.9 1502.8,465.8 1509.0,462.9 1517.9,468.1 1520.6,476.3" fill="#252525"  stroke="#252525" stroke-width="0.8"/>
<polygon points="1510.9,483.5 1502.0,478.2 1499.4,470.1 1505.6,467.2 1514.5,472.5 1517.2,480.6" fill="#3a3a3a"  stroke="#3a3a3a" stroke-width="0.8"/>
<polygon points="1482.8,478.8 1475.4,472.1 1472.1,464.3 1476.2,463.1 1483.6,469.7 1486.9,477.5" fill="#292929"  stroke="#292929" stroke-width="0.8"/>
<polygon points="1479.8,474.8 1472.4,468.1 1469.1,460.3 1473.2,459.1 1480.6,465.7 1483.9,473.5" fill="#252525"  stroke="#252525" stroke-width="0.8"/>
<polygon points="1474.8,478.9 1467.4,472.3 1464.1,464.5 1468.2,463.2 1475.6,469.8 1478.9,477.7" fill="#3a3a3a"  stroke="#3a3a3a" stroke-width="0.8"/>
<polygon points="1691.6,258.2 1693.4,254.9 1701.2,259.2 1707.0,266.9 1705.2,270.1 1697.4,265.8" fill="#292929"  stroke="#292929" stroke-width="0.8"/>
<polygon points="1688.6,254.2 1690.4,250.9 1698.2,255.2 1704.0,262.9 1702.2,266.1 1694.4,261.8" fill="#252525"  stroke="#252525" stroke-width="0.8"/>
<polygon points="1693.0,249.4 1694.9,246.1 1702.6,250.4 1708.5,258.1 1706.6,261.4 1698.9,257.0" fill="#3a3a3a"  stroke="#3a3a3a" stroke-width="0.8"/>
<polygon points="1699.6,298.8 1703.6,293.9 1711.2,298.3 1714.9,307.8 1710.9,312.8 1703.3,308.3" fill="#292929"  stroke="#292929" stroke-width="0.8"/>
<polygon points="1696.6,294.8 1700.6,289.9 1708.2,294.3 1711.9,303.8 1707.9,308.8 1700.3,304.3" fill="#252525"  stroke="#252525" stroke-width="0.8"/>
<polygon points="1701.5,291.8 1705.4,286.8 1713.0,291.3 1716.7,300.8 1712.7,305.7 1705.1,301.2" fill="#3a3a3a"  stroke="#3a3a3a" stroke-width="0.8"/>
<polygon points="1692.4,346.9 1698.4,341.0 1706.0,345.5 1707.6,355.9 1701.5,361.7 1693.9,357.2" fill="#292929"  stroke="#292929" stroke-width="0.8"/>
<polygon points="1689.4,342.9 1695.4,337.0 1703.0,341.5 1704.6,351.9 1698.5,357.7 1690.9,353.2" fill="#252525"  stroke="#252525" stroke-width="0.8"/>
<polygon points="1693.9,341.9 1699.9,336.0 1707.5,340.5 1709.1,350.9 1703.0,356.8 1695.4,352.3" fill="#3a3a3a"  stroke="#3a3a3a" stroke-width="0.8"/>
<polygon points="1670.5,396.7 1678.3,390.6 1686.1,394.8 1686.1,405.1 1678.3,411.2 1670.5,407.0" fill="#292929"  stroke="#292929" stroke-width="0.8"/>
<polygon points="1667.5,392.7 1675.3,386.6 1683.1,390.8 1683.1,401.1 1675.3,407.2 1667.5,403.0" fill="#252525"  stroke="#252525" stroke-width="0.8"/>
<polygon points="1671.0,393.8 1678.8,387.8 1686.7,392.0 1686.7,402.3 1678.9,408.4 1671.1,404.1" fill="#3a3a3a"  stroke="#3a3a3a" stroke-width="0.8"/>
<polygon points="1634.9,447.1 1640.2,438.4 1650.2,437.2 1654.9,444.7 1649.6,453.4 1639.6,454.6" fill="#292929"  stroke="#292929" stroke-width="0.8"/>
<polygon points="1631.9,443.1 1637.2,434.4 1647.2,433.2 1651.9,440.7 1646.6,449.4 1636.6,450.6" fill="#252525"  stroke="#252525" stroke-width="0.8"/>
<polygon points="1634.0,446.2 1639.3,437.5 1649.3,436.3 1654.0,443.8 1648.8,452.5 1638.8,453.7" fill="#3a3a3a"  stroke="#3a3a3a" stroke-width="0.8"/>
<polygon points="1609.2,487.6 1598.7,488.1 1593.3,481.5 1598.4,474.4 1608.9,473.9 1614.3,480.5" fill="#292929"  stroke="#292929" stroke-width="0.8"/>
<polygon points="1606.2,483.6 1595.7,484.1 1590.3,477.5 1595.4,470.4 1605.9,469.9 1611.3,476.5" fill="#252525"  stroke="#252525" stroke-width="0.8"/>
<polygon points="1606.5,488.2 1596.0,488.7 1590.7,482.1 1595.8,475.0 1606.3,474.5 1611.6,481.1" fill="#3a3a3a"  stroke="#3a3a3a" stroke-width="0.8"/>
<polygon points="1565.9,508.1 1555.7,506.9 1549.7,500.7 1553.9,495.8 1564.1,497.0 1570.1,503.1" fill="#292929"  stroke="#292929" stroke-width="0.8"/>
<polygon points="1562.9,504.1 1552.7,502.9 1546.7,496.7 1550.9,491.8 1561.1,493.0 1567.1,499.1" fill="#252525"  stroke="#252525" stroke-width="0.8"/>
<polygon points="1561.4,509.5 1551.2,508.4 1545.2,502.2 1549.4,497.3 1559.6,498.5 1565.6,504.6" fill="#3a3a3a"  stroke="#3a3a3a" stroke-width="0.8"/>
<polygon points="1524.6,512.2 1515.4,508.5 1509.4,502.4 1512.5,500.0 1521.6,503.7 1527.7,509.8" fill="#292929"  stroke="#292929" stroke-width="0.8"/>
<polygon points="1521.6,508.2 1512.4,504.5 1506.4,498.4 1509.5,496.0 1518.6,499.7 1524.7,505.8" fill="#252525"  stroke="#252525" stroke-width="0.8"/>
<polygon points="1518.3,513.9 1509.1,510.2 1503.1,504.1 1506.2,501.7 1515.4,505.4 1521.4,511.5" fill="#3a3a3a"  stroke="#3a3a3a" stroke-width="0.8"/>
<polygon points="1727.9,296.1 1730.0,293.4 1735.5,300.0 1738.9,309.1 1736.8,311.8 1731.3,305.3" fill="#292929"  stroke="#292929" stroke-width="0.8"/>
<polygon points="1724.9,292.1 1727.0,289.4 1732.5,296.0 1735.9,305.1 1733.8,307.8 1728.3,301.3" fill="#252525"  stroke="#252525" stroke-width="0.8"/>
<polygon points="1730.8,289.0 1732.9,286.4 1738.4,292.9 1741.8,302.1 1739.7,304.7 1734.2,298.2" fill="#3a3a3a"  stroke="#3a3a3a" stroke-width="0.8"/>
<polygon points="1728.8,340.8 1733.4,337.6 1738.3,344.5 1738.7,354.6 1734.1,357.9 1729.1,351.0" fill="#292929"  stroke="#292929" stroke-width="0.8"/>
<polygon points="1725.8,336.8 1730.4,333.6 1735.3,340.5 1735.7,350.6 1731.1,353.9 1726.1,347.0" fill="#252525"  stroke="#252525" stroke-width="0.8"/>
<polygon points="1731.7,335.7 1736.3,332.5 1741.3,339.4 1741.6,349.5 1737.0,352.7 1732.1,345.8" fill="#3a3a3a"  stroke="#3a3a3a" stroke-width="0.8"/>
<polygon points="1715.3,389.6 1722.1,387.4 1725.8,395.0 1722.7,404.9 1715.9,407.2 1712.2,399.5" fill="#292929"  stroke="#292929" stroke-width="0.8"/>
<polygon points="1712.3,385.6 1719.1,383.4 1722.8,391.0 1719.7,400.9 1712.9,403.2 1709.2,395.5" fill="#252525"  stroke="#252525" stroke-width="0.8"/>
<polygon points="1717.7,386.6 1724.5,384.4 1728.2,392.0 1725.0,401.9 1718.2,404.2 1714.5,396.5" fill="#3a3a3a"  stroke="#3a3a3a" stroke-width="0.8"/>
<polygon points="1619.4,516.0 1610.7,519.6 1601.3,518.0 1600.7,512.8 1609.5,509.2 1618.8,510.8" fill="#292929"  stroke="#292929" stroke-width="0.8"/>
<polygon points="1616.4,512.0 1607.7,515.6 1598.3,514.0 1597.7,508.8 1606.5,505.2 1615.8,506.8" fill="#252525"  stroke="#252525" stroke-width="0.8"/>
<polygon points="1617.1,518.0 1608.3,521.6 1599.0,520.0 1598.4,514.8 1607.1,511.2 1616.5,512.8" fill="#3a3a3a"  stroke="#3a3a3a" stroke-width="0.8"/>
<polygon points="1575.3,530.4 1566.0,530.2 1557.5,526.9 1558.3,523.9 1567.6,524.1 1576.1,527.3" fill="#292929"  stroke="#292929" stroke-width="0.8"/>
<polygon points="1572.3,526.4 1563.0,526.2 1554.5,522.9 1555.3,519.9 1564.6,520.1 1573.1,523.3" fill="#252525"  stroke="#252525" stroke-width="0.8"/>
<polygon points="1571.1,532.9 1561.8,532.7 1553.3,529.5 1554.1,526.5 1563.4,526.7 1571.9,529.9" fill="#3a3a3a"  stroke="#3a3a3a" stroke-width="0.8"/>
<ellipse cx="1484.0" cy="286.0" rx="8.0" ry="12.0" fill="#111" transform="rotate(25.0 1484.0 286.0)" />
<polygon points="1838.5,356.9 1840.6,355.3 1843.5,362.0 1844.4,370.3 1842.3,371.9 1839.4,365.3" fill="#292929"  stroke="#292929" stroke-width="0.8"/>
<polygon points="1835.5,352.9 1837.6,351.3 1840.5,358.0 1841.4,366.3 1839.3,367.9 1836.4,361.3" fill="#252525"  stroke="#252525" stroke-width="0.8"/>
<polygon points="1840.2,351.9 1842.3,350.3 1845.3,357.0 1846.1,365.3 1844.0,366.9 1841.1,360.3" fill="#363636"  stroke="#363636" stroke-width="0.8"/>
<polygon points="1722.4,584.5 1717.3,588.1 1708.8,590.5 1705.4,589.2 1710.5,585.6 1719.0,583.3" fill="#292929"  stroke="#292929" stroke-width="0.8"/>
<polygon points="1719.4,580.5 1714.3,584.1 1705.8,586.5 1702.4,585.2 1707.5,581.6 1716.0,579.3" fill="#252525"  stroke="#252525" stroke-width="0.8"/>
<polygon points="1720.9,585.1 1715.8,588.7 1707.3,591.0 1703.9,589.8 1709.0,586.2 1717.5,583.8" fill="#363636"  stroke="#363636" stroke-width="0.8"/>
<polygon points="1714.6,575.8 1709.1,580.2 1700.6,581.7 1697.4,578.8 1702.8,574.4 1711.4,572.9" fill="#292929"  stroke="#292929" stroke-width="0.8"/>
<polygon points="1711.6,571.8 1706.1,576.2 1697.6,577.7 1694.4,574.8 1699.8,570.4 1708.4,568.9" fill="#252525"  stroke="#252525" stroke-width="0.8"/>
<polygon points="1712.9,576.1 1707.5,580.5 1698.9,582.1 1695.7,579.1 1701.2,574.7 1709.7,573.2" fill="#363636"  stroke="#363636" stroke-width="0.8"/>
<polygon points="1711.5,560.1 1705.7,565.2 1697.2,565.9 1694.4,561.5 1700.2,556.4 1708.7,555.6" fill="#292929"  stroke="#292929" stroke-width="0.8"/>
<polygon points="1708.5,556.1 1702.7,561.2 1694.2,561.9 1691.4,557.5 1697.2,552.4 1705.7,551.6" fill="#252525"  stroke="#252525" stroke-width="0.8"/>
<polygon points="1709.8,560.0 1704.0,565.1 1695.4,565.9 1692.7,561.4 1698.5,556.3 1707.0,555.5" fill="#363636"  stroke="#363636" stroke-width="0.8"/>
<polygon points="1713.5,538.4 1707.4,544.2 1699.0,544.2 1696.6,538.4 1702.7,532.7 1711.1,532.7" fill="#292929"  stroke="#292929" stroke-width="0.8"/>
<polygon points="1710.5,534.4 1704.4,540.2 1696.0,540.2 1693.6,534.4 1699.7,528.7 1708.1,528.7" fill="#252525"  stroke="#252525" stroke-width="0.8"/>
<polygon points="1711.8,537.8 1705.7,543.6 1697.3,543.6 1694.9,537.8 1701.0,532.0 1709.4,532.0" fill="#363636"  stroke="#363636" stroke-width="0.8"/>
<polygon points="1720.5,511.9 1714.7,518.4 1706.3,518.3 1703.7,511.7 1709.4,505.2 1717.8,505.3" fill="#292929"  stroke="#292929" stroke-width="0.8"/>
<polygon points="1717.5,507.9 1711.7,514.4 1703.3,514.3 1700.7,507.7 1706.4,501.2 1714.8,501.3" fill="#252525"  stroke="#252525" stroke-width="0.8"/>
<polygon points="1719.0,510.6 1713.2,517.1 1704.8,517.0 1702.1,510.4 1707.9,503.9 1716.3,504.0" fill="#363636"  stroke="#363636" stroke-width="0.8"/>
<polygon points="1789.5,375.9 1794.7,371.7 1800.4,376.4 1801.0,385.3 1795.8,389.5 1790.1,384.8" fill="#292929"  stroke="#292929" stroke-width="0.8"/>
<polygon points="1786.5,371.9 1791.7,367.7 1797.4,372.4 1798.0,381.3 1792.8,385.5 1787.1,380.8" fill="#252525"  stroke="#252525" stroke-width="0.8"/>
<polygon points="1790.1,371.3 1795.2,367.1 1801.0,371.8 1801.5,380.7 1796.4,384.9 1790.6,380.2" fill="#363636"  stroke="#363636" stroke-width="0.8"/>
<polygon points="1808.5,362.0 1812.8,358.7 1817.7,364.1 1818.4,372.9 1814.1,376.2 1809.1,370.8" fill="#292929"  stroke="#292929" stroke-width="0.8"/>
<polygon points="1805.5,358.0 1809.8,354.7 1814.7,360.1 1815.4,368.9 1811.1,372.2 1806.1,366.8" fill="#252525"  stroke="#252525" stroke-width="0.8"/>
<polygon points="1809.5,357.1 1813.8,353.8 1818.8,359.2 1819.4,367.9 1815.1,371.3 1810.2,365.9" fill="#363636"  stroke="#363636" stroke-width="0.8"/>
<polygon points="1825.2,355.6 1828.5,353.1 1832.5,359.2 1833.2,367.7 1830.0,370.2 1825.9,364.1" fill="#292929"  stroke="#292929" stroke-width="0.8"/>
<polygon points="1822.2,351.6 1825.5,349.1 1829.5,355.2 1830.2,363.7 1827.0,366.2 1822.9,360.1" fill="#252525"  stroke="#252525" stroke-width="0.8"/>
<polygon points="1826.6,350.5 1829.9,348.1 1833.9,354.1 1834.6,362.7 1831.4,365.2 1827.4,359.1" fill="#363636"  stroke="#363636" stroke-width="0.8"/>
<polygon points="1659.7,580.4 1651.6,582.3 1644.2,579.8 1644.8,575.4 1652.9,573.5 1660.4,576.0" fill="#292929"  stroke="#292929" stroke-width="0.8"/>
<polygon points="1656.7,576.4 1648.6,578.3 1641.2,575.8 1641.8,571.4 1649.9,569.5 1657.4,572.0" fill="#252525"  stroke="#252525" stroke-width="0.8"/>
<polygon points="1656.7,580.8 1648.6,582.7 1641.2,580.2 1641.8,575.7 1649.9,573.8 1657.3,576.3" fill="#363636"  stroke="#363636" stroke-width="0.8"/>
<polygon points="1657.5,557.5 1648.7,558.6 1642.8,554.0 1645.8,548.3 1654.7,547.3 1660.5,551.9" fill="#292929"  stroke="#292929" stroke-width="0.8"/>
<polygon points="1654.5,553.5 1645.7,554.6 1639.8,550.0 1642.8,544.3 1651.7,543.3 1657.5,547.9" fill="#252525"  stroke="#252525" stroke-width="0.8"/>
<polygon points="1654.5,557.3 1645.6,558.3 1639.8,553.7 1642.8,548.1 1651.6,547.0 1657.5,551.6" fill="#363636"  stroke="#363636" stroke-width="0.8"/>
<polygon points="1796.5,310.6 1799.4,307.0 1805.4,311.5 1808.4,319.5 1805.5,323.1 1799.5,318.7" fill="#292929"  stroke="#292929" stroke-width="0.8"/>
<polygon points="1793.5,306.6 1796.4,303.0 1802.4,307.5 1805.4,315.5 1802.5,319.1 1796.5,314.7" fill="#252525"  stroke="#252525" stroke-width="0.8"/>
<polygon points="1797.2,304.4 1800.2,300.8 1806.2,305.3 1809.2,313.3 1806.2,316.9 1800.2,312.4" fill="#363636"  stroke="#363636" stroke-width="0.8"/>
<polygon points="1815.6,307.1 1817.4,304.8 1822.2,310.3 1825.3,318.1 1823.5,320.4 1818.7,314.9" fill="#292929"  stroke="#292929" stroke-width="0.8"/>
<polygon points="1812.6,303.1 1814.4,300.8 1819.2,306.3 1822.3,314.1 1820.5,316.4 1815.7,310.9" fill="#252525"  stroke="#252525" stroke-width="0.8"/>
<polygon points="1816.8,300.9 1818.6,298.5 1823.4,304.0 1826.5,311.8 1824.7,314.1 1819.9,308.7" fill="#363636"  stroke="#363636" stroke-width="0.8"/>
<polygon points="1604.4,566.3 1595.7,564.7 1590.8,559.3 1594.5,555.4 1603.2,557.0 1608.1,562.4" fill="#292929"  stroke="#292929" stroke-width="0.8"/>
<polygon points="1601.4,562.3 1592.7,560.7 1587.8,555.3 1591.5,551.4 1600.2,553.0 1605.1,558.4" fill="#252525"  stroke="#252525" stroke-width="0.8"/>
<polygon points="1600.0,566.2 1591.4,564.7 1586.5,559.3 1590.2,555.4 1598.8,556.9 1603.8,562.3" fill="#363636"  stroke="#363636" stroke-width="0.8"/>
<polygon points="1753.5,275.7 1756.1,271.3 1763.5,273.8 1768.4,280.7 1765.8,285.1 1758.4,282.6" fill="#292929"  stroke="#292929" stroke-width="0.8"/>
<polygon points="1750.5,271.7 1753.1,267.3 1760.5,269.8 1765.4,276.7 1762.8,281.1 1755.4,278.6" fill="#252525"  stroke="#252525" stroke-width="0.8"/>
<polygon points="1753.2,268.6 1755.8,264.2 1763.2,266.7 1768.1,273.6 1765.5,278.0 1758.1,275.5" fill="#363636"  stroke="#363636" stroke-width="0.8"/>
<g stroke="#000" stroke-width="4.8" stroke-linecap="round">
<line x1="160" y1="81" x2="430.8" y2="524.5"/>
<line x1="534.3" y1="196" x2="616" y2="796"/>
<line x1="534.3" y1="196" x2="669.8" y2="524"/>
<line x1="834" y1="85" x2="834" y2="621"/>
<line x1="1107.9" y1="196" x2="980.4" y2="399"/>
<line x1="1107.9" y1="196" x2="999" y2="678"/>
<line x1="1357" y1="82" x2="1220" y2="546.5"/>
<line x1="1682" y1="82" x2="1590" y2="292"/>
<line x1="378" y1="972" x2="493" y2="665"/>
<line x1="659" y1="1107" x2="659" y2="647.5"/>
<line x1="1017" y1="994" x2="807" y2="785"/>
<line x1="1507" y1="1110" x2="1229" y2="697"/>
</g>
<g font-size="66" font-weight="300" fill="#000" letter-spacing="0.5">
<text x="52" y="58">联轴器</text>
<text x="410" y="176">主动轮</text>
<text x="585" y="61">主动轮驱动舵机</text>
<text x="1027" y="177">被动轮</text>
<text x="1150" y="61">主动关节齿轮</text>
<text x="1590" y="57">球形轮</text>
<text x="50" y="1067">球形轮驱动舵机</text>
<text x="455" y="1182">被动关节扭簧</text>
<text x="828" y="1067">主动轮传动齿轮</text>
<text x="1297" y="1184">主动关节舵机</text>
</g>
</svg>
</body></html>
